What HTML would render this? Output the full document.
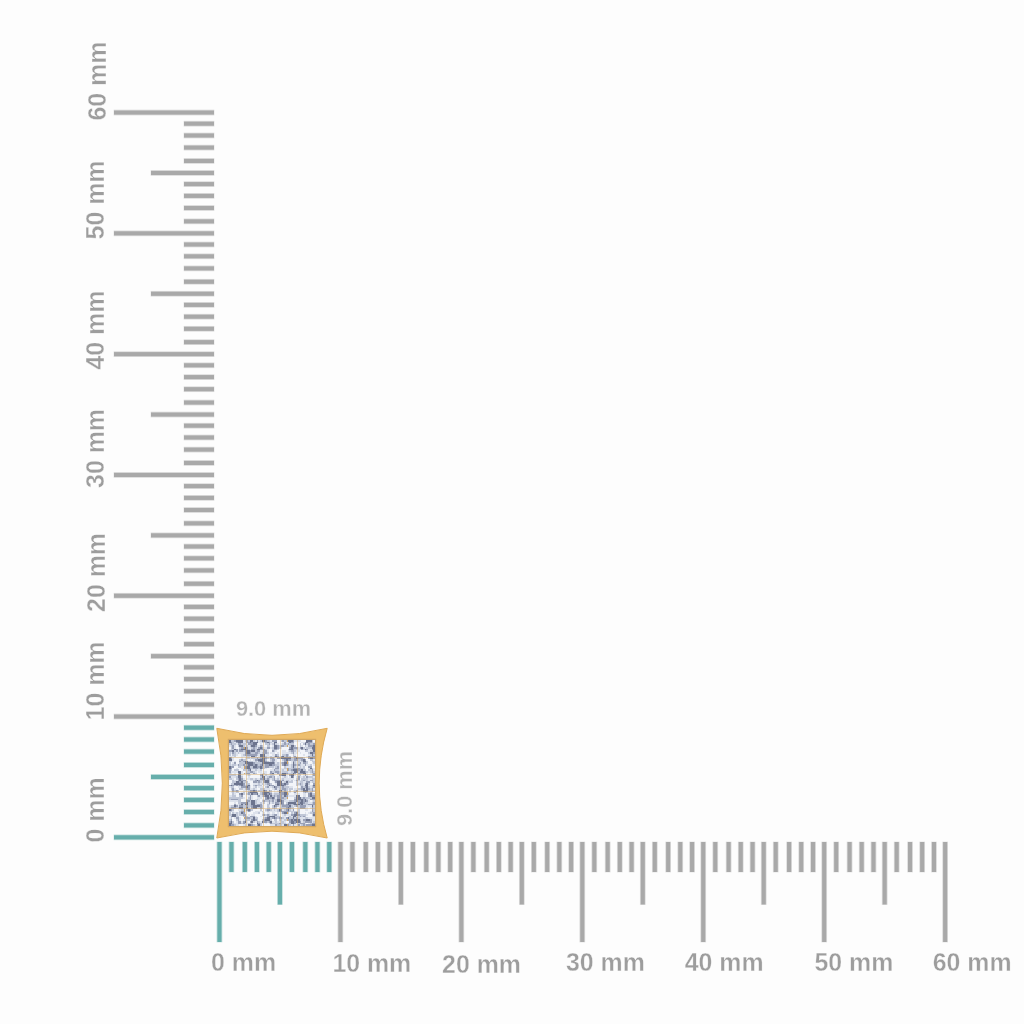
<!DOCTYPE html>
<html><head><meta charset="utf-8"><style>
html,body{margin:0;padding:0;background:#fdfdfd;}
svg{display:block;will-change:transform}
text{font-family:"Liberation Sans",sans-serif;}
text.ax{font-size:24.9px;font-weight:bold;fill:#9d9d9d;stroke:#fdfdfd;stroke-width:0.35px;}
text.dim{font-size:21.8px;font-weight:bold;fill:#b2b2b2;stroke:#fdfdfd;stroke-width:0.3px;}
</style></head><body>
<svg width="1024" height="1024" viewBox="0 0 1024 1024">
<rect width="1024" height="1024" fill="#fdfdfd"/>
<rect x="113.70" y="834.50" width="100.60" height="5.70" fill="#66aeab" opacity="0.4"/>
<rect x="114.00" y="835.30" width="100.00" height="4.10" fill="#66aeab"/>
<rect x="183.70" y="822.50" width="30.60" height="5.70" fill="#66aeab" opacity="0.4"/>
<rect x="184.00" y="823.30" width="30.00" height="4.10" fill="#66aeab"/>
<rect x="183.70" y="809.15" width="30.60" height="5.70" fill="#66aeab" opacity="0.4"/>
<rect x="184.00" y="809.95" width="30.00" height="4.10" fill="#66aeab"/>
<rect x="183.70" y="797.05" width="30.60" height="5.70" fill="#66aeab" opacity="0.4"/>
<rect x="184.00" y="797.85" width="30.00" height="4.10" fill="#66aeab"/>
<rect x="183.70" y="785.25" width="30.60" height="5.70" fill="#66aeab" opacity="0.4"/>
<rect x="184.00" y="786.05" width="30.00" height="4.10" fill="#66aeab"/>
<rect x="150.70" y="774.10" width="63.60" height="5.70" fill="#66aeab" opacity="0.4"/>
<rect x="151.00" y="774.90" width="63.00" height="4.10" fill="#66aeab"/>
<rect x="183.70" y="762.10" width="30.60" height="5.70" fill="#66aeab" opacity="0.4"/>
<rect x="184.00" y="762.90" width="30.00" height="4.10" fill="#66aeab"/>
<rect x="183.70" y="748.75" width="30.60" height="5.70" fill="#66aeab" opacity="0.4"/>
<rect x="184.00" y="749.55" width="30.00" height="4.10" fill="#66aeab"/>
<rect x="183.70" y="736.65" width="30.60" height="5.70" fill="#66aeab" opacity="0.4"/>
<rect x="184.00" y="737.45" width="30.00" height="4.10" fill="#66aeab"/>
<rect x="183.70" y="724.85" width="30.60" height="5.70" fill="#66aeab" opacity="0.4"/>
<rect x="184.00" y="725.65" width="30.00" height="4.10" fill="#66aeab"/>
<rect x="113.70" y="713.70" width="100.60" height="5.70" fill="#a9a9a9" opacity="0.4"/>
<rect x="114.00" y="714.50" width="100.00" height="4.10" fill="#a9a9a9"/>
<rect x="183.70" y="701.70" width="30.60" height="5.70" fill="#a9a9a9" opacity="0.4"/>
<rect x="184.00" y="702.50" width="30.00" height="4.10" fill="#a9a9a9"/>
<rect x="183.70" y="688.35" width="30.60" height="5.70" fill="#a9a9a9" opacity="0.4"/>
<rect x="184.00" y="689.15" width="30.00" height="4.10" fill="#a9a9a9"/>
<rect x="183.70" y="676.25" width="30.60" height="5.70" fill="#a9a9a9" opacity="0.4"/>
<rect x="184.00" y="677.05" width="30.00" height="4.10" fill="#a9a9a9"/>
<rect x="183.70" y="664.45" width="30.60" height="5.70" fill="#a9a9a9" opacity="0.4"/>
<rect x="184.00" y="665.25" width="30.00" height="4.10" fill="#a9a9a9"/>
<rect x="150.70" y="653.30" width="63.60" height="5.70" fill="#a9a9a9" opacity="0.4"/>
<rect x="151.00" y="654.10" width="63.00" height="4.10" fill="#a9a9a9"/>
<rect x="183.70" y="641.30" width="30.60" height="5.70" fill="#a9a9a9" opacity="0.4"/>
<rect x="184.00" y="642.10" width="30.00" height="4.10" fill="#a9a9a9"/>
<rect x="183.70" y="627.95" width="30.60" height="5.70" fill="#a9a9a9" opacity="0.4"/>
<rect x="184.00" y="628.75" width="30.00" height="4.10" fill="#a9a9a9"/>
<rect x="183.70" y="615.85" width="30.60" height="5.70" fill="#a9a9a9" opacity="0.4"/>
<rect x="184.00" y="616.65" width="30.00" height="4.10" fill="#a9a9a9"/>
<rect x="183.70" y="604.05" width="30.60" height="5.70" fill="#a9a9a9" opacity="0.4"/>
<rect x="184.00" y="604.85" width="30.00" height="4.10" fill="#a9a9a9"/>
<rect x="113.70" y="592.90" width="100.60" height="5.70" fill="#a9a9a9" opacity="0.4"/>
<rect x="114.00" y="593.70" width="100.00" height="4.10" fill="#a9a9a9"/>
<rect x="183.70" y="580.90" width="30.60" height="5.70" fill="#a9a9a9" opacity="0.4"/>
<rect x="184.00" y="581.70" width="30.00" height="4.10" fill="#a9a9a9"/>
<rect x="183.70" y="567.55" width="30.60" height="5.70" fill="#a9a9a9" opacity="0.4"/>
<rect x="184.00" y="568.35" width="30.00" height="4.10" fill="#a9a9a9"/>
<rect x="183.70" y="555.45" width="30.60" height="5.70" fill="#a9a9a9" opacity="0.4"/>
<rect x="184.00" y="556.25" width="30.00" height="4.10" fill="#a9a9a9"/>
<rect x="183.70" y="543.65" width="30.60" height="5.70" fill="#a9a9a9" opacity="0.4"/>
<rect x="184.00" y="544.45" width="30.00" height="4.10" fill="#a9a9a9"/>
<rect x="150.70" y="532.50" width="63.60" height="5.70" fill="#a9a9a9" opacity="0.4"/>
<rect x="151.00" y="533.30" width="63.00" height="4.10" fill="#a9a9a9"/>
<rect x="183.70" y="520.50" width="30.60" height="5.70" fill="#a9a9a9" opacity="0.4"/>
<rect x="184.00" y="521.30" width="30.00" height="4.10" fill="#a9a9a9"/>
<rect x="183.70" y="507.15" width="30.60" height="5.70" fill="#a9a9a9" opacity="0.4"/>
<rect x="184.00" y="507.95" width="30.00" height="4.10" fill="#a9a9a9"/>
<rect x="183.70" y="495.05" width="30.60" height="5.70" fill="#a9a9a9" opacity="0.4"/>
<rect x="184.00" y="495.85" width="30.00" height="4.10" fill="#a9a9a9"/>
<rect x="183.70" y="483.25" width="30.60" height="5.70" fill="#a9a9a9" opacity="0.4"/>
<rect x="184.00" y="484.05" width="30.00" height="4.10" fill="#a9a9a9"/>
<rect x="113.70" y="472.10" width="100.60" height="5.70" fill="#a9a9a9" opacity="0.4"/>
<rect x="114.00" y="472.90" width="100.00" height="4.10" fill="#a9a9a9"/>
<rect x="183.70" y="460.10" width="30.60" height="5.70" fill="#a9a9a9" opacity="0.4"/>
<rect x="184.00" y="460.90" width="30.00" height="4.10" fill="#a9a9a9"/>
<rect x="183.70" y="446.75" width="30.60" height="5.70" fill="#a9a9a9" opacity="0.4"/>
<rect x="184.00" y="447.55" width="30.00" height="4.10" fill="#a9a9a9"/>
<rect x="183.70" y="434.65" width="30.60" height="5.70" fill="#a9a9a9" opacity="0.4"/>
<rect x="184.00" y="435.45" width="30.00" height="4.10" fill="#a9a9a9"/>
<rect x="183.70" y="422.85" width="30.60" height="5.70" fill="#a9a9a9" opacity="0.4"/>
<rect x="184.00" y="423.65" width="30.00" height="4.10" fill="#a9a9a9"/>
<rect x="150.70" y="411.70" width="63.60" height="5.70" fill="#a9a9a9" opacity="0.4"/>
<rect x="151.00" y="412.50" width="63.00" height="4.10" fill="#a9a9a9"/>
<rect x="183.70" y="399.70" width="30.60" height="5.70" fill="#a9a9a9" opacity="0.4"/>
<rect x="184.00" y="400.50" width="30.00" height="4.10" fill="#a9a9a9"/>
<rect x="183.70" y="386.35" width="30.60" height="5.70" fill="#a9a9a9" opacity="0.4"/>
<rect x="184.00" y="387.15" width="30.00" height="4.10" fill="#a9a9a9"/>
<rect x="183.70" y="374.25" width="30.60" height="5.70" fill="#a9a9a9" opacity="0.4"/>
<rect x="184.00" y="375.05" width="30.00" height="4.10" fill="#a9a9a9"/>
<rect x="183.70" y="362.45" width="30.60" height="5.70" fill="#a9a9a9" opacity="0.4"/>
<rect x="184.00" y="363.25" width="30.00" height="4.10" fill="#a9a9a9"/>
<rect x="113.70" y="351.30" width="100.60" height="5.70" fill="#a9a9a9" opacity="0.4"/>
<rect x="114.00" y="352.10" width="100.00" height="4.10" fill="#a9a9a9"/>
<rect x="183.70" y="339.30" width="30.60" height="5.70" fill="#a9a9a9" opacity="0.4"/>
<rect x="184.00" y="340.10" width="30.00" height="4.10" fill="#a9a9a9"/>
<rect x="183.70" y="325.95" width="30.60" height="5.70" fill="#a9a9a9" opacity="0.4"/>
<rect x="184.00" y="326.75" width="30.00" height="4.10" fill="#a9a9a9"/>
<rect x="183.70" y="313.85" width="30.60" height="5.70" fill="#a9a9a9" opacity="0.4"/>
<rect x="184.00" y="314.65" width="30.00" height="4.10" fill="#a9a9a9"/>
<rect x="183.70" y="302.05" width="30.60" height="5.70" fill="#a9a9a9" opacity="0.4"/>
<rect x="184.00" y="302.85" width="30.00" height="4.10" fill="#a9a9a9"/>
<rect x="150.70" y="290.90" width="63.60" height="5.70" fill="#a9a9a9" opacity="0.4"/>
<rect x="151.00" y="291.70" width="63.00" height="4.10" fill="#a9a9a9"/>
<rect x="183.70" y="278.90" width="30.60" height="5.70" fill="#a9a9a9" opacity="0.4"/>
<rect x="184.00" y="279.70" width="30.00" height="4.10" fill="#a9a9a9"/>
<rect x="183.70" y="265.55" width="30.60" height="5.70" fill="#a9a9a9" opacity="0.4"/>
<rect x="184.00" y="266.35" width="30.00" height="4.10" fill="#a9a9a9"/>
<rect x="183.70" y="253.45" width="30.60" height="5.70" fill="#a9a9a9" opacity="0.4"/>
<rect x="184.00" y="254.25" width="30.00" height="4.10" fill="#a9a9a9"/>
<rect x="183.70" y="241.65" width="30.60" height="5.70" fill="#a9a9a9" opacity="0.4"/>
<rect x="184.00" y="242.45" width="30.00" height="4.10" fill="#a9a9a9"/>
<rect x="113.70" y="230.50" width="100.60" height="5.70" fill="#a9a9a9" opacity="0.4"/>
<rect x="114.00" y="231.30" width="100.00" height="4.10" fill="#a9a9a9"/>
<rect x="183.70" y="218.50" width="30.60" height="5.70" fill="#a9a9a9" opacity="0.4"/>
<rect x="184.00" y="219.30" width="30.00" height="4.10" fill="#a9a9a9"/>
<rect x="183.70" y="205.15" width="30.60" height="5.70" fill="#a9a9a9" opacity="0.4"/>
<rect x="184.00" y="205.95" width="30.00" height="4.10" fill="#a9a9a9"/>
<rect x="183.70" y="193.05" width="30.60" height="5.70" fill="#a9a9a9" opacity="0.4"/>
<rect x="184.00" y="193.85" width="30.00" height="4.10" fill="#a9a9a9"/>
<rect x="183.70" y="181.25" width="30.60" height="5.70" fill="#a9a9a9" opacity="0.4"/>
<rect x="184.00" y="182.05" width="30.00" height="4.10" fill="#a9a9a9"/>
<rect x="150.70" y="170.10" width="63.60" height="5.70" fill="#a9a9a9" opacity="0.4"/>
<rect x="151.00" y="170.90" width="63.00" height="4.10" fill="#a9a9a9"/>
<rect x="183.70" y="158.10" width="30.60" height="5.70" fill="#a9a9a9" opacity="0.4"/>
<rect x="184.00" y="158.90" width="30.00" height="4.10" fill="#a9a9a9"/>
<rect x="183.70" y="144.75" width="30.60" height="5.70" fill="#a9a9a9" opacity="0.4"/>
<rect x="184.00" y="145.55" width="30.00" height="4.10" fill="#a9a9a9"/>
<rect x="183.70" y="132.65" width="30.60" height="5.70" fill="#a9a9a9" opacity="0.4"/>
<rect x="184.00" y="133.45" width="30.00" height="4.10" fill="#a9a9a9"/>
<rect x="183.70" y="120.85" width="30.60" height="5.70" fill="#a9a9a9" opacity="0.4"/>
<rect x="184.00" y="121.65" width="30.00" height="4.10" fill="#a9a9a9"/>
<rect x="113.70" y="109.70" width="100.60" height="5.70" fill="#a9a9a9" opacity="0.4"/>
<rect x="114.00" y="110.50" width="100.00" height="4.10" fill="#a9a9a9"/>
<rect x="216.60" y="841.70" width="5.70" height="100.60" fill="#66aeab" opacity="0.4"/>
<rect x="217.40" y="842.00" width="4.10" height="100.00" fill="#66aeab"/>
<rect x="228.61" y="841.70" width="5.70" height="30.60" fill="#66aeab" opacity="0.4"/>
<rect x="229.41" y="842.00" width="4.10" height="30.00" fill="#66aeab"/>
<rect x="241.98" y="841.70" width="5.70" height="30.60" fill="#66aeab" opacity="0.4"/>
<rect x="242.78" y="842.00" width="4.10" height="30.00" fill="#66aeab"/>
<rect x="254.10" y="841.70" width="5.70" height="30.60" fill="#66aeab" opacity="0.4"/>
<rect x="254.90" y="842.00" width="4.10" height="30.00" fill="#66aeab"/>
<rect x="265.91" y="841.70" width="5.70" height="30.60" fill="#66aeab" opacity="0.4"/>
<rect x="266.71" y="842.00" width="4.10" height="30.00" fill="#66aeab"/>
<rect x="277.07" y="841.70" width="5.70" height="63.10" fill="#66aeab" opacity="0.4"/>
<rect x="277.88" y="842.00" width="4.10" height="62.50" fill="#66aeab"/>
<rect x="289.09" y="841.70" width="5.70" height="30.60" fill="#66aeab" opacity="0.4"/>
<rect x="289.89" y="842.00" width="4.10" height="30.00" fill="#66aeab"/>
<rect x="302.46" y="841.70" width="5.70" height="30.60" fill="#66aeab" opacity="0.4"/>
<rect x="303.26" y="842.00" width="4.10" height="30.00" fill="#66aeab"/>
<rect x="314.57" y="841.70" width="5.70" height="30.60" fill="#66aeab" opacity="0.4"/>
<rect x="315.37" y="842.00" width="4.10" height="30.00" fill="#66aeab"/>
<rect x="326.39" y="841.70" width="5.70" height="30.60" fill="#66aeab" opacity="0.4"/>
<rect x="327.19" y="842.00" width="4.10" height="30.00" fill="#66aeab"/>
<rect x="337.55" y="841.70" width="5.70" height="100.60" fill="#a9a9a9" opacity="0.4"/>
<rect x="338.35" y="842.00" width="4.10" height="100.00" fill="#a9a9a9"/>
<rect x="349.56" y="841.70" width="5.70" height="30.60" fill="#a9a9a9" opacity="0.4"/>
<rect x="350.36" y="842.00" width="4.10" height="30.00" fill="#a9a9a9"/>
<rect x="362.93" y="841.70" width="5.70" height="30.60" fill="#a9a9a9" opacity="0.4"/>
<rect x="363.73" y="842.00" width="4.10" height="30.00" fill="#a9a9a9"/>
<rect x="375.05" y="841.70" width="5.70" height="30.60" fill="#a9a9a9" opacity="0.4"/>
<rect x="375.85" y="842.00" width="4.10" height="30.00" fill="#a9a9a9"/>
<rect x="386.86" y="841.70" width="5.70" height="30.60" fill="#a9a9a9" opacity="0.4"/>
<rect x="387.66" y="842.00" width="4.10" height="30.00" fill="#a9a9a9"/>
<rect x="398.02" y="841.70" width="5.70" height="63.10" fill="#a9a9a9" opacity="0.4"/>
<rect x="398.82" y="842.00" width="4.10" height="62.50" fill="#a9a9a9"/>
<rect x="410.04" y="841.70" width="5.70" height="30.60" fill="#a9a9a9" opacity="0.4"/>
<rect x="410.84" y="842.00" width="4.10" height="30.00" fill="#a9a9a9"/>
<rect x="423.41" y="841.70" width="5.70" height="30.60" fill="#a9a9a9" opacity="0.4"/>
<rect x="424.21" y="842.00" width="4.10" height="30.00" fill="#a9a9a9"/>
<rect x="435.52" y="841.70" width="5.70" height="30.60" fill="#a9a9a9" opacity="0.4"/>
<rect x="436.32" y="842.00" width="4.10" height="30.00" fill="#a9a9a9"/>
<rect x="447.34" y="841.70" width="5.70" height="30.60" fill="#a9a9a9" opacity="0.4"/>
<rect x="448.14" y="842.00" width="4.10" height="30.00" fill="#a9a9a9"/>
<rect x="458.50" y="841.70" width="5.70" height="100.60" fill="#a9a9a9" opacity="0.4"/>
<rect x="459.30" y="842.00" width="4.10" height="100.00" fill="#a9a9a9"/>
<rect x="470.51" y="841.70" width="5.70" height="30.60" fill="#a9a9a9" opacity="0.4"/>
<rect x="471.31" y="842.00" width="4.10" height="30.00" fill="#a9a9a9"/>
<rect x="483.88" y="841.70" width="5.70" height="30.60" fill="#a9a9a9" opacity="0.4"/>
<rect x="484.68" y="842.00" width="4.10" height="30.00" fill="#a9a9a9"/>
<rect x="496.00" y="841.70" width="5.70" height="30.60" fill="#a9a9a9" opacity="0.4"/>
<rect x="496.80" y="842.00" width="4.10" height="30.00" fill="#a9a9a9"/>
<rect x="507.81" y="841.70" width="5.70" height="30.60" fill="#a9a9a9" opacity="0.4"/>
<rect x="508.61" y="842.00" width="4.10" height="30.00" fill="#a9a9a9"/>
<rect x="518.98" y="841.70" width="5.70" height="63.10" fill="#a9a9a9" opacity="0.4"/>
<rect x="519.78" y="842.00" width="4.10" height="62.50" fill="#a9a9a9"/>
<rect x="530.99" y="841.70" width="5.70" height="30.60" fill="#a9a9a9" opacity="0.4"/>
<rect x="531.79" y="842.00" width="4.10" height="30.00" fill="#a9a9a9"/>
<rect x="544.36" y="841.70" width="5.70" height="30.60" fill="#a9a9a9" opacity="0.4"/>
<rect x="545.16" y="842.00" width="4.10" height="30.00" fill="#a9a9a9"/>
<rect x="556.47" y="841.70" width="5.70" height="30.60" fill="#a9a9a9" opacity="0.4"/>
<rect x="557.27" y="842.00" width="4.10" height="30.00" fill="#a9a9a9"/>
<rect x="568.29" y="841.70" width="5.70" height="30.60" fill="#a9a9a9" opacity="0.4"/>
<rect x="569.09" y="842.00" width="4.10" height="30.00" fill="#a9a9a9"/>
<rect x="579.45" y="841.70" width="5.70" height="100.60" fill="#a9a9a9" opacity="0.4"/>
<rect x="580.25" y="842.00" width="4.10" height="100.00" fill="#a9a9a9"/>
<rect x="591.46" y="841.70" width="5.70" height="30.60" fill="#a9a9a9" opacity="0.4"/>
<rect x="592.26" y="842.00" width="4.10" height="30.00" fill="#a9a9a9"/>
<rect x="604.83" y="841.70" width="5.70" height="30.60" fill="#a9a9a9" opacity="0.4"/>
<rect x="605.63" y="842.00" width="4.10" height="30.00" fill="#a9a9a9"/>
<rect x="616.95" y="841.70" width="5.70" height="30.60" fill="#a9a9a9" opacity="0.4"/>
<rect x="617.75" y="842.00" width="4.10" height="30.00" fill="#a9a9a9"/>
<rect x="628.76" y="841.70" width="5.70" height="30.60" fill="#a9a9a9" opacity="0.4"/>
<rect x="629.56" y="842.00" width="4.10" height="30.00" fill="#a9a9a9"/>
<rect x="639.93" y="841.70" width="5.70" height="63.10" fill="#a9a9a9" opacity="0.4"/>
<rect x="640.73" y="842.00" width="4.10" height="62.50" fill="#a9a9a9"/>
<rect x="651.94" y="841.70" width="5.70" height="30.60" fill="#a9a9a9" opacity="0.4"/>
<rect x="652.74" y="842.00" width="4.10" height="30.00" fill="#a9a9a9"/>
<rect x="665.31" y="841.70" width="5.70" height="30.60" fill="#a9a9a9" opacity="0.4"/>
<rect x="666.11" y="842.00" width="4.10" height="30.00" fill="#a9a9a9"/>
<rect x="677.42" y="841.70" width="5.70" height="30.60" fill="#a9a9a9" opacity="0.4"/>
<rect x="678.22" y="842.00" width="4.10" height="30.00" fill="#a9a9a9"/>
<rect x="689.24" y="841.70" width="5.70" height="30.60" fill="#a9a9a9" opacity="0.4"/>
<rect x="690.04" y="842.00" width="4.10" height="30.00" fill="#a9a9a9"/>
<rect x="700.40" y="841.70" width="5.70" height="100.60" fill="#a9a9a9" opacity="0.4"/>
<rect x="701.20" y="842.00" width="4.10" height="100.00" fill="#a9a9a9"/>
<rect x="712.41" y="841.70" width="5.70" height="30.60" fill="#a9a9a9" opacity="0.4"/>
<rect x="713.21" y="842.00" width="4.10" height="30.00" fill="#a9a9a9"/>
<rect x="725.78" y="841.70" width="5.70" height="30.60" fill="#a9a9a9" opacity="0.4"/>
<rect x="726.58" y="842.00" width="4.10" height="30.00" fill="#a9a9a9"/>
<rect x="737.90" y="841.70" width="5.70" height="30.60" fill="#a9a9a9" opacity="0.4"/>
<rect x="738.70" y="842.00" width="4.10" height="30.00" fill="#a9a9a9"/>
<rect x="749.71" y="841.70" width="5.70" height="30.60" fill="#a9a9a9" opacity="0.4"/>
<rect x="750.51" y="842.00" width="4.10" height="30.00" fill="#a9a9a9"/>
<rect x="760.87" y="841.70" width="5.70" height="63.10" fill="#a9a9a9" opacity="0.4"/>
<rect x="761.67" y="842.00" width="4.10" height="62.50" fill="#a9a9a9"/>
<rect x="772.89" y="841.70" width="5.70" height="30.60" fill="#a9a9a9" opacity="0.4"/>
<rect x="773.69" y="842.00" width="4.10" height="30.00" fill="#a9a9a9"/>
<rect x="786.26" y="841.70" width="5.70" height="30.60" fill="#a9a9a9" opacity="0.4"/>
<rect x="787.06" y="842.00" width="4.10" height="30.00" fill="#a9a9a9"/>
<rect x="798.37" y="841.70" width="5.70" height="30.60" fill="#a9a9a9" opacity="0.4"/>
<rect x="799.17" y="842.00" width="4.10" height="30.00" fill="#a9a9a9"/>
<rect x="810.19" y="841.70" width="5.70" height="30.60" fill="#a9a9a9" opacity="0.4"/>
<rect x="810.99" y="842.00" width="4.10" height="30.00" fill="#a9a9a9"/>
<rect x="821.35" y="841.70" width="5.70" height="100.60" fill="#a9a9a9" opacity="0.4"/>
<rect x="822.15" y="842.00" width="4.10" height="100.00" fill="#a9a9a9"/>
<rect x="833.36" y="841.70" width="5.70" height="30.60" fill="#a9a9a9" opacity="0.4"/>
<rect x="834.16" y="842.00" width="4.10" height="30.00" fill="#a9a9a9"/>
<rect x="846.73" y="841.70" width="5.70" height="30.60" fill="#a9a9a9" opacity="0.4"/>
<rect x="847.53" y="842.00" width="4.10" height="30.00" fill="#a9a9a9"/>
<rect x="858.85" y="841.70" width="5.70" height="30.60" fill="#a9a9a9" opacity="0.4"/>
<rect x="859.65" y="842.00" width="4.10" height="30.00" fill="#a9a9a9"/>
<rect x="870.66" y="841.70" width="5.70" height="30.60" fill="#a9a9a9" opacity="0.4"/>
<rect x="871.46" y="842.00" width="4.10" height="30.00" fill="#a9a9a9"/>
<rect x="881.82" y="841.70" width="5.70" height="63.10" fill="#a9a9a9" opacity="0.4"/>
<rect x="882.62" y="842.00" width="4.10" height="62.50" fill="#a9a9a9"/>
<rect x="893.84" y="841.70" width="5.70" height="30.60" fill="#a9a9a9" opacity="0.4"/>
<rect x="894.64" y="842.00" width="4.10" height="30.00" fill="#a9a9a9"/>
<rect x="907.21" y="841.70" width="5.70" height="30.60" fill="#a9a9a9" opacity="0.4"/>
<rect x="908.01" y="842.00" width="4.10" height="30.00" fill="#a9a9a9"/>
<rect x="919.32" y="841.70" width="5.70" height="30.60" fill="#a9a9a9" opacity="0.4"/>
<rect x="920.12" y="842.00" width="4.10" height="30.00" fill="#a9a9a9"/>
<rect x="931.14" y="841.70" width="5.70" height="30.60" fill="#a9a9a9" opacity="0.4"/>
<rect x="931.94" y="842.00" width="4.10" height="30.00" fill="#a9a9a9"/>
<rect x="942.30" y="841.70" width="5.70" height="100.60" fill="#a9a9a9" opacity="0.4"/>
<rect x="943.10" y="842.00" width="4.10" height="100.00" fill="#a9a9a9"/>
<text class="ax" x="211.00" y="971.00">0 mm</text>
<text class="ax" x="332.40" y="972.00">10 mm</text>
<text class="ax" x="442.10" y="972.50">20 mm</text>
<text class="ax" x="566.00" y="971.00">30 mm</text>
<text class="ax" x="684.70" y="971.00">40 mm</text>
<text class="ax" x="814.50" y="971.00">50 mm</text>
<text class="ax" x="932.70" y="971.00">60 mm</text>
<text class="ax" transform="translate(105.60,120.60) rotate(-90)">60 mm</text>
<text class="ax" transform="translate(104.30,239.40) rotate(-90)">50 mm</text>
<text class="ax" transform="translate(104.30,369.60) rotate(-90)">40 mm</text>
<text class="ax" transform="translate(104.30,487.90) rotate(-90)">30 mm</text>
<text class="ax" transform="translate(105.30,611.90) rotate(-90)">20 mm</text>
<text class="ax" transform="translate(104.30,720.40) rotate(-90)">10 mm</text>
<text class="ax" transform="translate(104.30,842.50) rotate(-90)">0 mm</text>
<text class="dim" x="235.90" y="716.40">9.0 mm</text>
<text class="dim" transform="translate(352.40,826.00) rotate(-90)">9.0 mm</text>
<defs><filter id="bl" x="-5%" y="-5%" width="110%" height="110%"><feGaussianBlur stdDeviation="0"/></filter></defs>
<path d="M216.8,728.3 Q272.0,742.3 327.2,728.3 Q311.2,783.15 327.2,838.0 Q272.0,824.4 216.8,838.0 Q227.8,783.15 216.8,728.3 Z" fill="#eebf6e" stroke="#dfa955" stroke-width="1"/>
<rect x="227.8" y="738.8" width="88.4" height="88.4" fill="#d2a764"/>
<g shape-rendering="crispEdges"><rect x="229.0" y="740.0" width="1.7" height="1.7" fill="#6c748e"/><rect x="230.7" y="740.0" width="3.4" height="1.7" fill="#c0c7d7"/><rect x="234.2" y="740.0" width="1.7" height="1.7" fill="#98a0b7"/><rect x="235.9" y="740.0" width="6.9" height="1.7" fill="#6c748e"/><rect x="242.8" y="740.0" width="1.7" height="1.7" fill="#dde2ec"/><rect x="244.5" y="740.0" width="1.7" height="1.7" fill="#c0c7d7"/><rect x="246.2" y="740.0" width="1.7" height="1.7" fill="#98a0b7"/><rect x="247.9" y="740.0" width="1.7" height="1.7" fill="#c0c7d7"/><rect x="249.6" y="740.0" width="3.4" height="1.7" fill="#6c748e"/><rect x="253.1" y="740.0" width="1.7" height="1.7" fill="#c0c7d7"/><rect x="254.8" y="740.0" width="1.7" height="1.7" fill="#dde2ec"/><rect x="256.5" y="740.0" width="1.7" height="1.7" fill="#98a0b7"/><rect x="258.2" y="740.0" width="1.7" height="1.7" fill="#dde2ec"/><rect x="260.0" y="740.0" width="1.7" height="1.7" fill="#c0c7d7"/><rect x="261.7" y="740.0" width="3.4" height="1.7" fill="#6c748e"/><rect x="265.1" y="740.0" width="1.7" height="1.7" fill="#98a0b7"/><rect x="266.8" y="740.0" width="3.4" height="1.7" fill="#c0c7d7"/><rect x="270.3" y="740.0" width="1.7" height="1.7" fill="#dde2ec"/><rect x="272.0" y="740.0" width="5.2" height="1.7" fill="#98a0b7"/><rect x="277.2" y="740.0" width="3.4" height="1.7" fill="#f3f5f9"/><rect x="280.6" y="740.0" width="1.7" height="1.7" fill="#c0c7d7"/><rect x="282.3" y="740.0" width="1.7" height="1.7" fill="#98a0b7"/><rect x="284.0" y="740.0" width="3.4" height="1.7" fill="#c0c7d7"/><rect x="287.5" y="740.0" width="5.2" height="1.7" fill="#6c748e"/><rect x="292.6" y="740.0" width="1.7" height="1.7" fill="#98a0b7"/><rect x="294.4" y="740.0" width="6.9" height="1.7" fill="#dde2ec"/><rect x="301.2" y="740.0" width="5.2" height="1.7" fill="#f3f5f9"/><rect x="306.4" y="740.0" width="5.2" height="1.7" fill="#6c748e"/><rect x="311.6" y="740.0" width="1.7" height="1.7" fill="#c0c7d7"/><rect x="313.3" y="740.0" width="1.7" height="1.7" fill="#f3f5f9"/><rect x="229.0" y="741.7" width="1.7" height="1.7" fill="#6c748e"/><rect x="230.7" y="741.7" width="1.7" height="1.7" fill="#98a0b7"/><rect x="232.4" y="741.7" width="1.7" height="1.7" fill="#c0c7d7"/><rect x="234.2" y="741.7" width="1.7" height="1.7" fill="#dde2ec"/><rect x="235.9" y="741.7" width="1.7" height="1.7" fill="#98a0b7"/><rect x="237.6" y="741.7" width="5.2" height="1.7" fill="#6c748e"/><rect x="242.8" y="741.7" width="3.4" height="1.7" fill="#dde2ec"/><rect x="246.2" y="741.7" width="3.4" height="1.7" fill="#98a0b7"/><rect x="249.6" y="741.7" width="1.7" height="1.7" fill="#6c748e"/><rect x="251.4" y="741.7" width="1.7" height="1.7" fill="#98a0b7"/><rect x="253.1" y="741.7" width="5.2" height="1.7" fill="#6c748e"/><rect x="258.2" y="741.7" width="3.4" height="1.7" fill="#dde2ec"/><rect x="261.7" y="741.7" width="3.4" height="1.7" fill="#c0c7d7"/><rect x="265.1" y="741.7" width="1.7" height="1.7" fill="#98a0b7"/><rect x="266.8" y="741.7" width="1.7" height="1.7" fill="#6c748e"/><rect x="268.6" y="741.7" width="1.7" height="1.7" fill="#98a0b7"/><rect x="270.3" y="741.7" width="1.7" height="1.7" fill="#c0c7d7"/><rect x="272.0" y="741.7" width="1.7" height="1.7" fill="#dde2ec"/><rect x="273.7" y="741.7" width="3.4" height="1.7" fill="#6c748e"/><rect x="277.2" y="741.7" width="5.2" height="1.7" fill="#f3f5f9"/><rect x="282.3" y="741.7" width="1.7" height="1.7" fill="#dde2ec"/><rect x="284.0" y="741.7" width="1.7" height="1.7" fill="#98a0b7"/><rect x="285.8" y="741.7" width="1.7" height="1.7" fill="#dde2ec"/><rect x="287.5" y="741.7" width="1.7" height="1.7" fill="#c0c7d7"/><rect x="289.2" y="741.7" width="1.7" height="1.7" fill="#6c748e"/><rect x="290.9" y="741.7" width="3.4" height="1.7" fill="#98a0b7"/><rect x="294.4" y="741.7" width="6.9" height="1.7" fill="#f3f5f9"/><rect x="301.2" y="741.7" width="3.4" height="1.7" fill="#dde2ec"/><rect x="304.7" y="741.7" width="1.7" height="1.7" fill="#98a0b7"/><rect x="306.4" y="741.7" width="1.7" height="1.7" fill="#6c748e"/><rect x="308.1" y="741.7" width="3.4" height="1.7" fill="#98a0b7"/><rect x="311.6" y="741.7" width="1.7" height="1.7" fill="#c0c7d7"/><rect x="313.3" y="741.7" width="1.7" height="1.7" fill="#dde2ec"/><rect x="229.0" y="743.4" width="1.7" height="1.7" fill="#c0c7d7"/><rect x="230.7" y="743.4" width="1.7" height="1.7" fill="#98a0b7"/><rect x="232.4" y="743.4" width="3.4" height="1.7" fill="#c0c7d7"/><rect x="235.9" y="743.4" width="1.7" height="1.7" fill="#dde2ec"/><rect x="237.6" y="743.4" width="3.4" height="1.7" fill="#98a0b7"/><rect x="241.0" y="743.4" width="5.2" height="1.7" fill="#c0c7d7"/><rect x="246.2" y="743.4" width="1.7" height="1.7" fill="#dde2ec"/><rect x="247.9" y="743.4" width="5.2" height="1.7" fill="#98a0b7"/><rect x="253.1" y="743.4" width="3.4" height="1.7" fill="#6c748e"/><rect x="256.5" y="743.4" width="1.7" height="1.7" fill="#dde2ec"/><rect x="258.2" y="743.4" width="1.7" height="1.7" fill="#f3f5f9"/><rect x="260.0" y="743.4" width="1.7" height="1.7" fill="#dde2ec"/><rect x="261.7" y="743.4" width="3.4" height="1.7" fill="#f3f5f9"/><rect x="265.1" y="743.4" width="3.4" height="1.7" fill="#c0c7d7"/><rect x="268.6" y="743.4" width="1.7" height="1.7" fill="#98a0b7"/><rect x="270.3" y="743.4" width="1.7" height="1.7" fill="#dde2ec"/><rect x="272.0" y="743.4" width="1.7" height="1.7" fill="#c0c7d7"/><rect x="273.7" y="743.4" width="1.7" height="1.7" fill="#6c748e"/><rect x="275.4" y="743.4" width="1.7" height="1.7" fill="#c0c7d7"/><rect x="277.2" y="743.4" width="1.7" height="1.7" fill="#dde2ec"/><rect x="278.9" y="743.4" width="1.7" height="1.7" fill="#f3f5f9"/><rect x="280.6" y="743.4" width="1.7" height="1.7" fill="#dde2ec"/><rect x="282.3" y="743.4" width="1.7" height="1.7" fill="#c0c7d7"/><rect x="284.0" y="743.4" width="1.7" height="1.7" fill="#98a0b7"/><rect x="285.8" y="743.4" width="1.7" height="1.7" fill="#c0c7d7"/><rect x="287.5" y="743.4" width="1.7" height="1.7" fill="#98a0b7"/><rect x="289.2" y="743.4" width="5.2" height="1.7" fill="#c0c7d7"/><rect x="294.4" y="743.4" width="5.2" height="1.7" fill="#f3f5f9"/><rect x="299.5" y="743.4" width="1.7" height="1.7" fill="#c0c7d7"/><rect x="301.2" y="743.4" width="1.7" height="1.7" fill="#f3f5f9"/><rect x="303.0" y="743.4" width="1.7" height="1.7" fill="#c0c7d7"/><rect x="304.7" y="743.4" width="1.7" height="1.7" fill="#6c748e"/><rect x="306.4" y="743.4" width="1.7" height="1.7" fill="#c0c7d7"/><rect x="308.1" y="743.4" width="1.7" height="1.7" fill="#98a0b7"/><rect x="309.8" y="743.4" width="3.4" height="1.7" fill="#c0c7d7"/><rect x="313.3" y="743.4" width="1.7" height="1.7" fill="#98a0b7"/><rect x="229.0" y="745.2" width="1.7" height="1.7" fill="#dde2ec"/><rect x="230.7" y="745.2" width="1.7" height="1.7" fill="#c0c7d7"/><rect x="232.4" y="745.2" width="1.7" height="1.7" fill="#98a0b7"/><rect x="234.2" y="745.2" width="1.7" height="1.7" fill="#dde2ec"/><rect x="235.9" y="745.2" width="1.7" height="1.7" fill="#f3f5f9"/><rect x="237.6" y="745.2" width="1.7" height="1.7" fill="#c0c7d7"/><rect x="239.3" y="745.2" width="3.4" height="1.7" fill="#6c748e"/><rect x="242.8" y="745.2" width="1.7" height="1.7" fill="#c0c7d7"/><rect x="244.5" y="745.2" width="1.7" height="1.7" fill="#dde2ec"/><rect x="246.2" y="745.2" width="1.7" height="1.7" fill="#c0c7d7"/><rect x="247.9" y="745.2" width="1.7" height="1.7" fill="#dde2ec"/><rect x="249.6" y="745.2" width="1.7" height="1.7" fill="#c0c7d7"/><rect x="251.4" y="745.2" width="3.4" height="1.7" fill="#6c748e"/><rect x="254.8" y="745.2" width="1.7" height="1.7" fill="#98a0b7"/><rect x="256.5" y="745.2" width="3.4" height="1.7" fill="#dde2ec"/><rect x="260.0" y="745.2" width="1.7" height="1.7" fill="#98a0b7"/><rect x="261.7" y="745.2" width="1.7" height="1.7" fill="#c0c7d7"/><rect x="263.4" y="745.2" width="3.4" height="1.7" fill="#f3f5f9"/><rect x="266.8" y="745.2" width="3.4" height="1.7" fill="#c0c7d7"/><rect x="270.3" y="745.2" width="1.7" height="1.7" fill="#f3f5f9"/><rect x="272.0" y="745.2" width="1.7" height="1.7" fill="#dde2ec"/><rect x="273.7" y="745.2" width="3.4" height="1.7" fill="#6c748e"/><rect x="277.2" y="745.2" width="1.7" height="1.7" fill="#98a0b7"/><rect x="278.9" y="745.2" width="1.7" height="1.7" fill="#c0c7d7"/><rect x="280.6" y="745.2" width="3.4" height="1.7" fill="#98a0b7"/><rect x="284.0" y="745.2" width="3.4" height="1.7" fill="#c0c7d7"/><rect x="287.5" y="745.2" width="1.7" height="1.7" fill="#dde2ec"/><rect x="289.2" y="745.2" width="1.7" height="1.7" fill="#c0c7d7"/><rect x="290.9" y="745.2" width="3.4" height="1.7" fill="#6c748e"/><rect x="294.4" y="745.2" width="1.7" height="1.7" fill="#c0c7d7"/><rect x="296.1" y="745.2" width="3.4" height="1.7" fill="#f3f5f9"/><rect x="299.5" y="745.2" width="1.7" height="1.7" fill="#c0c7d7"/><rect x="301.2" y="745.2" width="1.7" height="1.7" fill="#dde2ec"/><rect x="303.0" y="745.2" width="1.7" height="1.7" fill="#f3f5f9"/><rect x="304.7" y="745.2" width="1.7" height="1.7" fill="#c0c7d7"/><rect x="306.4" y="745.2" width="1.7" height="1.7" fill="#dde2ec"/><rect x="308.1" y="745.2" width="5.2" height="1.7" fill="#98a0b7"/><rect x="313.3" y="745.2" width="1.7" height="1.7" fill="#6c748e"/><rect x="229.0" y="746.9" width="1.7" height="1.7" fill="#f3f5f9"/><rect x="230.7" y="746.9" width="1.7" height="1.7" fill="#c0c7d7"/><rect x="232.4" y="746.9" width="1.7" height="1.7" fill="#98a0b7"/><rect x="234.2" y="746.9" width="1.7" height="1.7" fill="#dde2ec"/><rect x="235.9" y="746.9" width="3.4" height="1.7" fill="#f3f5f9"/><rect x="239.3" y="746.9" width="1.7" height="1.7" fill="#c0c7d7"/><rect x="241.0" y="746.9" width="3.4" height="1.7" fill="#98a0b7"/><rect x="244.5" y="746.9" width="1.7" height="1.7" fill="#6c748e"/><rect x="246.2" y="746.9" width="1.7" height="1.7" fill="#98a0b7"/><rect x="247.9" y="746.9" width="3.4" height="1.7" fill="#dde2ec"/><rect x="251.4" y="746.9" width="1.7" height="1.7" fill="#c0c7d7"/><rect x="253.1" y="746.9" width="1.7" height="1.7" fill="#98a0b7"/><rect x="254.8" y="746.9" width="1.7" height="1.7" fill="#c0c7d7"/><rect x="256.5" y="746.9" width="1.7" height="1.7" fill="#dde2ec"/><rect x="258.2" y="746.9" width="1.7" height="1.7" fill="#98a0b7"/><rect x="260.0" y="746.9" width="1.7" height="1.7" fill="#6c748e"/><rect x="261.7" y="746.9" width="1.7" height="1.7" fill="#98a0b7"/><rect x="263.4" y="746.9" width="3.4" height="1.7" fill="#dde2ec"/><rect x="266.8" y="746.9" width="3.4" height="1.7" fill="#98a0b7"/><rect x="270.3" y="746.9" width="1.7" height="1.7" fill="#dde2ec"/><rect x="272.0" y="746.9" width="1.7" height="1.7" fill="#c0c7d7"/><rect x="273.7" y="746.9" width="3.4" height="1.7" fill="#6c748e"/><rect x="277.2" y="746.9" width="1.7" height="1.7" fill="#98a0b7"/><rect x="278.9" y="746.9" width="1.7" height="1.7" fill="#c0c7d7"/><rect x="280.6" y="746.9" width="1.7" height="1.7" fill="#dde2ec"/><rect x="282.3" y="746.9" width="6.9" height="1.7" fill="#f3f5f9"/><rect x="289.2" y="746.9" width="1.7" height="1.7" fill="#98a0b7"/><rect x="290.9" y="746.9" width="1.7" height="1.7" fill="#6c748e"/><rect x="292.6" y="746.9" width="5.2" height="1.7" fill="#98a0b7"/><rect x="297.8" y="746.9" width="1.7" height="1.7" fill="#dde2ec"/><rect x="299.5" y="746.9" width="1.7" height="1.7" fill="#98a0b7"/><rect x="301.2" y="746.9" width="1.7" height="1.7" fill="#6c748e"/><rect x="303.0" y="746.9" width="1.7" height="1.7" fill="#c0c7d7"/><rect x="304.7" y="746.9" width="1.7" height="1.7" fill="#dde2ec"/><rect x="306.4" y="746.9" width="5.2" height="1.7" fill="#c0c7d7"/><rect x="311.6" y="746.9" width="3.4" height="1.7" fill="#6c748e"/><rect x="229.0" y="748.6" width="1.7" height="1.7" fill="#dde2ec"/><rect x="230.7" y="748.6" width="3.4" height="1.7" fill="#c0c7d7"/><rect x="234.2" y="748.6" width="1.7" height="1.7" fill="#6c748e"/><rect x="235.9" y="748.6" width="1.7" height="1.7" fill="#98a0b7"/><rect x="237.6" y="748.6" width="1.7" height="1.7" fill="#dde2ec"/><rect x="239.3" y="748.6" width="1.7" height="1.7" fill="#98a0b7"/><rect x="241.0" y="748.6" width="5.2" height="1.7" fill="#6c748e"/><rect x="246.2" y="748.6" width="1.7" height="1.7" fill="#98a0b7"/><rect x="247.9" y="748.6" width="1.7" height="1.7" fill="#c0c7d7"/><rect x="249.6" y="748.6" width="1.7" height="1.7" fill="#dde2ec"/><rect x="251.4" y="748.6" width="3.4" height="1.7" fill="#98a0b7"/><rect x="254.8" y="748.6" width="1.7" height="1.7" fill="#c0c7d7"/><rect x="256.5" y="748.6" width="3.4" height="1.7" fill="#6c748e"/><rect x="260.0" y="748.6" width="5.2" height="1.7" fill="#98a0b7"/><rect x="265.1" y="748.6" width="1.7" height="1.7" fill="#c0c7d7"/><rect x="266.8" y="748.6" width="1.7" height="1.7" fill="#dde2ec"/><rect x="268.6" y="748.6" width="3.4" height="1.7" fill="#f3f5f9"/><rect x="272.0" y="748.6" width="1.7" height="1.7" fill="#c0c7d7"/><rect x="273.7" y="748.6" width="3.4" height="1.7" fill="#98a0b7"/><rect x="277.2" y="748.6" width="1.7" height="1.7" fill="#c0c7d7"/><rect x="278.9" y="748.6" width="8.6" height="1.7" fill="#f3f5f9"/><rect x="287.5" y="748.6" width="1.7" height="1.7" fill="#c0c7d7"/><rect x="289.2" y="748.6" width="3.4" height="1.7" fill="#6c748e"/><rect x="292.6" y="748.6" width="1.7" height="1.7" fill="#98a0b7"/><rect x="294.4" y="748.6" width="3.4" height="1.7" fill="#c0c7d7"/><rect x="297.8" y="748.6" width="3.4" height="1.7" fill="#dde2ec"/><rect x="301.2" y="748.6" width="1.7" height="1.7" fill="#98a0b7"/><rect x="303.0" y="748.6" width="1.7" height="1.7" fill="#c0c7d7"/><rect x="304.7" y="748.6" width="1.7" height="1.7" fill="#6c748e"/><rect x="306.4" y="748.6" width="1.7" height="1.7" fill="#98a0b7"/><rect x="308.1" y="748.6" width="3.4" height="1.7" fill="#dde2ec"/><rect x="311.6" y="748.6" width="1.7" height="1.7" fill="#98a0b7"/><rect x="313.3" y="748.6" width="1.7" height="1.7" fill="#6c748e"/><rect x="229.0" y="750.3" width="3.4" height="1.7" fill="#98a0b7"/><rect x="232.4" y="750.3" width="1.7" height="1.7" fill="#6c748e"/><rect x="234.2" y="750.3" width="1.7" height="1.7" fill="#c0c7d7"/><rect x="235.9" y="750.3" width="1.7" height="1.7" fill="#98a0b7"/><rect x="237.6" y="750.3" width="1.7" height="1.7" fill="#dde2ec"/><rect x="239.3" y="750.3" width="3.4" height="1.7" fill="#98a0b7"/><rect x="242.8" y="750.3" width="1.7" height="1.7" fill="#c0c7d7"/><rect x="244.5" y="750.3" width="1.7" height="1.7" fill="#98a0b7"/><rect x="246.2" y="750.3" width="3.4" height="1.7" fill="#6c748e"/><rect x="249.6" y="750.3" width="1.7" height="1.7" fill="#98a0b7"/><rect x="251.4" y="750.3" width="3.4" height="1.7" fill="#6c748e"/><rect x="254.8" y="750.3" width="1.7" height="1.7" fill="#c0c7d7"/><rect x="256.5" y="750.3" width="3.4" height="1.7" fill="#98a0b7"/><rect x="260.0" y="750.3" width="3.4" height="1.7" fill="#dde2ec"/><rect x="263.4" y="750.3" width="3.4" height="1.7" fill="#98a0b7"/><rect x="266.8" y="750.3" width="1.7" height="1.7" fill="#dde2ec"/><rect x="268.6" y="750.3" width="3.4" height="1.7" fill="#f3f5f9"/><rect x="272.0" y="750.3" width="1.7" height="1.7" fill="#98a0b7"/><rect x="273.7" y="750.3" width="1.7" height="1.7" fill="#c0c7d7"/><rect x="275.4" y="750.3" width="1.7" height="1.7" fill="#dde2ec"/><rect x="277.2" y="750.3" width="5.2" height="1.7" fill="#f3f5f9"/><rect x="282.3" y="750.3" width="3.4" height="1.7" fill="#dde2ec"/><rect x="285.8" y="750.3" width="1.7" height="1.7" fill="#f3f5f9"/><rect x="287.5" y="750.3" width="1.7" height="1.7" fill="#dde2ec"/><rect x="289.2" y="750.3" width="1.7" height="1.7" fill="#c0c7d7"/><rect x="290.9" y="750.3" width="3.4" height="1.7" fill="#98a0b7"/><rect x="294.4" y="750.3" width="1.7" height="1.7" fill="#c0c7d7"/><rect x="296.1" y="750.3" width="3.4" height="1.7" fill="#dde2ec"/><rect x="299.5" y="750.3" width="5.2" height="1.7" fill="#f3f5f9"/><rect x="304.7" y="750.3" width="3.4" height="1.7" fill="#c0c7d7"/><rect x="308.1" y="750.3" width="1.7" height="1.7" fill="#dde2ec"/><rect x="309.8" y="750.3" width="3.4" height="1.7" fill="#c0c7d7"/><rect x="313.3" y="750.3" width="1.7" height="1.7" fill="#6c748e"/><rect x="229.0" y="752.0" width="1.7" height="1.7" fill="#c0c7d7"/><rect x="230.7" y="752.0" width="1.7" height="1.7" fill="#dde2ec"/><rect x="232.4" y="752.0" width="1.7" height="1.7" fill="#98a0b7"/><rect x="234.2" y="752.0" width="1.7" height="1.7" fill="#c0c7d7"/><rect x="235.9" y="752.0" width="1.7" height="1.7" fill="#dde2ec"/><rect x="237.6" y="752.0" width="1.7" height="1.7" fill="#c0c7d7"/><rect x="239.3" y="752.0" width="5.2" height="1.7" fill="#dde2ec"/><rect x="244.5" y="752.0" width="1.7" height="1.7" fill="#98a0b7"/><rect x="246.2" y="752.0" width="3.4" height="1.7" fill="#6c748e"/><rect x="249.6" y="752.0" width="1.7" height="1.7" fill="#98a0b7"/><rect x="251.4" y="752.0" width="3.4" height="1.7" fill="#c0c7d7"/><rect x="254.8" y="752.0" width="3.4" height="1.7" fill="#98a0b7"/><rect x="258.2" y="752.0" width="1.7" height="1.7" fill="#c0c7d7"/><rect x="260.0" y="752.0" width="1.7" height="1.7" fill="#dde2ec"/><rect x="261.7" y="752.0" width="1.7" height="1.7" fill="#c0c7d7"/><rect x="263.4" y="752.0" width="3.4" height="1.7" fill="#98a0b7"/><rect x="266.8" y="752.0" width="1.7" height="1.7" fill="#c0c7d7"/><rect x="268.6" y="752.0" width="1.7" height="1.7" fill="#f3f5f9"/><rect x="270.3" y="752.0" width="5.2" height="1.7" fill="#dde2ec"/><rect x="275.4" y="752.0" width="1.7" height="1.7" fill="#f3f5f9"/><rect x="277.2" y="752.0" width="1.7" height="1.7" fill="#dde2ec"/><rect x="278.9" y="752.0" width="3.4" height="1.7" fill="#f3f5f9"/><rect x="282.3" y="752.0" width="8.6" height="1.7" fill="#dde2ec"/><rect x="290.9" y="752.0" width="1.7" height="1.7" fill="#c0c7d7"/><rect x="292.6" y="752.0" width="1.7" height="1.7" fill="#98a0b7"/><rect x="294.4" y="752.0" width="3.4" height="1.7" fill="#dde2ec"/><rect x="297.8" y="752.0" width="1.7" height="1.7" fill="#f3f5f9"/><rect x="299.5" y="752.0" width="1.7" height="1.7" fill="#dde2ec"/><rect x="301.2" y="752.0" width="6.9" height="1.7" fill="#f3f5f9"/><rect x="308.1" y="752.0" width="1.7" height="1.7" fill="#c0c7d7"/><rect x="309.8" y="752.0" width="3.4" height="1.7" fill="#6c748e"/><rect x="313.3" y="752.0" width="1.7" height="1.7" fill="#98a0b7"/><rect x="229.0" y="753.8" width="1.7" height="1.7" fill="#c0c7d7"/><rect x="230.7" y="753.8" width="1.7" height="1.7" fill="#f3f5f9"/><rect x="232.4" y="753.8" width="3.4" height="1.7" fill="#c0c7d7"/><rect x="235.9" y="753.8" width="1.7" height="1.7" fill="#dde2ec"/><rect x="237.6" y="753.8" width="3.4" height="1.7" fill="#f3f5f9"/><rect x="241.0" y="753.8" width="1.7" height="1.7" fill="#dde2ec"/><rect x="242.8" y="753.8" width="1.7" height="1.7" fill="#c0c7d7"/><rect x="244.5" y="753.8" width="12.0" height="1.7" fill="#98a0b7"/><rect x="256.5" y="753.8" width="1.7" height="1.7" fill="#c0c7d7"/><rect x="258.2" y="753.8" width="1.7" height="1.7" fill="#dde2ec"/><rect x="260.0" y="753.8" width="5.2" height="1.7" fill="#6c748e"/><rect x="265.1" y="753.8" width="3.4" height="1.7" fill="#dde2ec"/><rect x="268.6" y="753.8" width="3.4" height="1.7" fill="#f3f5f9"/><rect x="272.0" y="753.8" width="3.4" height="1.7" fill="#dde2ec"/><rect x="275.4" y="753.8" width="1.7" height="1.7" fill="#98a0b7"/><rect x="277.2" y="753.8" width="1.7" height="1.7" fill="#c0c7d7"/><rect x="278.9" y="753.8" width="3.4" height="1.7" fill="#f3f5f9"/><rect x="282.3" y="753.8" width="3.4" height="1.7" fill="#c0c7d7"/><rect x="285.8" y="753.8" width="1.7" height="1.7" fill="#98a0b7"/><rect x="287.5" y="753.8" width="1.7" height="1.7" fill="#c0c7d7"/><rect x="289.2" y="753.8" width="3.4" height="1.7" fill="#f3f5f9"/><rect x="292.6" y="753.8" width="1.7" height="1.7" fill="#c0c7d7"/><rect x="294.4" y="753.8" width="1.7" height="1.7" fill="#dde2ec"/><rect x="296.1" y="753.8" width="6.9" height="1.7" fill="#f3f5f9"/><rect x="303.0" y="753.8" width="1.7" height="1.7" fill="#dde2ec"/><rect x="304.7" y="753.8" width="3.4" height="1.7" fill="#f3f5f9"/><rect x="308.1" y="753.8" width="1.7" height="1.7" fill="#dde2ec"/><rect x="309.8" y="753.8" width="1.7" height="1.7" fill="#c0c7d7"/><rect x="311.6" y="753.8" width="1.7" height="1.7" fill="#6c748e"/><rect x="313.3" y="753.8" width="1.7" height="1.7" fill="#c0c7d7"/><rect x="229.0" y="755.5" width="5.2" height="1.7" fill="#dde2ec"/><rect x="234.2" y="755.5" width="1.7" height="1.7" fill="#c0c7d7"/><rect x="235.9" y="755.5" width="5.2" height="1.7" fill="#f3f5f9"/><rect x="241.0" y="755.5" width="5.2" height="1.7" fill="#dde2ec"/><rect x="246.2" y="755.5" width="3.4" height="1.7" fill="#c0c7d7"/><rect x="249.6" y="755.5" width="1.7" height="1.7" fill="#dde2ec"/><rect x="251.4" y="755.5" width="3.4" height="1.7" fill="#6c748e"/><rect x="254.8" y="755.5" width="1.7" height="1.7" fill="#c0c7d7"/><rect x="256.5" y="755.5" width="1.7" height="1.7" fill="#f3f5f9"/><rect x="258.2" y="755.5" width="1.7" height="1.7" fill="#dde2ec"/><rect x="260.0" y="755.5" width="5.2" height="1.7" fill="#6c748e"/><rect x="265.1" y="755.5" width="1.7" height="1.7" fill="#c0c7d7"/><rect x="266.8" y="755.5" width="3.4" height="1.7" fill="#dde2ec"/><rect x="270.3" y="755.5" width="1.7" height="1.7" fill="#c0c7d7"/><rect x="272.0" y="755.5" width="1.7" height="1.7" fill="#dde2ec"/><rect x="273.7" y="755.5" width="1.7" height="1.7" fill="#c0c7d7"/><rect x="275.4" y="755.5" width="1.7" height="1.7" fill="#6c748e"/><rect x="277.2" y="755.5" width="1.7" height="1.7" fill="#98a0b7"/><rect x="278.9" y="755.5" width="1.7" height="1.7" fill="#dde2ec"/><rect x="280.6" y="755.5" width="1.7" height="1.7" fill="#98a0b7"/><rect x="282.3" y="755.5" width="1.7" height="1.7" fill="#6c748e"/><rect x="284.0" y="755.5" width="1.7" height="1.7" fill="#c0c7d7"/><rect x="285.8" y="755.5" width="1.7" height="1.7" fill="#98a0b7"/><rect x="287.5" y="755.5" width="3.4" height="1.7" fill="#c0c7d7"/><rect x="290.9" y="755.5" width="1.7" height="1.7" fill="#f3f5f9"/><rect x="292.6" y="755.5" width="1.7" height="1.7" fill="#c0c7d7"/><rect x="294.4" y="755.5" width="1.7" height="1.7" fill="#98a0b7"/><rect x="296.1" y="755.5" width="1.7" height="1.7" fill="#dde2ec"/><rect x="297.8" y="755.5" width="8.6" height="1.7" fill="#f3f5f9"/><rect x="306.4" y="755.5" width="1.7" height="1.7" fill="#dde2ec"/><rect x="308.1" y="755.5" width="1.7" height="1.7" fill="#98a0b7"/><rect x="309.8" y="755.5" width="1.7" height="1.7" fill="#c0c7d7"/><rect x="311.6" y="755.5" width="3.4" height="1.7" fill="#98a0b7"/><rect x="229.0" y="757.2" width="1.7" height="1.7" fill="#6c748e"/><rect x="230.7" y="757.2" width="1.7" height="1.7" fill="#98a0b7"/><rect x="232.4" y="757.2" width="1.7" height="1.7" fill="#dde2ec"/><rect x="234.2" y="757.2" width="6.9" height="1.7" fill="#f3f5f9"/><rect x="241.0" y="757.2" width="1.7" height="1.7" fill="#dde2ec"/><rect x="242.8" y="757.2" width="1.7" height="1.7" fill="#f3f5f9"/><rect x="244.5" y="757.2" width="1.7" height="1.7" fill="#dde2ec"/><rect x="246.2" y="757.2" width="3.4" height="1.7" fill="#c0c7d7"/><rect x="249.6" y="757.2" width="1.7" height="1.7" fill="#dde2ec"/><rect x="251.4" y="757.2" width="5.2" height="1.7" fill="#c0c7d7"/><rect x="256.5" y="757.2" width="1.7" height="1.7" fill="#98a0b7"/><rect x="258.2" y="757.2" width="1.7" height="1.7" fill="#c0c7d7"/><rect x="260.0" y="757.2" width="1.7" height="1.7" fill="#98a0b7"/><rect x="261.7" y="757.2" width="3.4" height="1.7" fill="#6c748e"/><rect x="265.1" y="757.2" width="1.7" height="1.7" fill="#98a0b7"/><rect x="266.8" y="757.2" width="1.7" height="1.7" fill="#c0c7d7"/><rect x="268.6" y="757.2" width="1.7" height="1.7" fill="#dde2ec"/><rect x="270.3" y="757.2" width="3.4" height="1.7" fill="#98a0b7"/><rect x="273.7" y="757.2" width="1.7" height="1.7" fill="#c0c7d7"/><rect x="275.4" y="757.2" width="1.7" height="1.7" fill="#dde2ec"/><rect x="277.2" y="757.2" width="3.4" height="1.7" fill="#98a0b7"/><rect x="280.6" y="757.2" width="10.3" height="1.7" fill="#6c748e"/><rect x="290.9" y="757.2" width="3.4" height="1.7" fill="#c0c7d7"/><rect x="294.4" y="757.2" width="1.7" height="1.7" fill="#98a0b7"/><rect x="296.1" y="757.2" width="1.7" height="1.7" fill="#6c748e"/><rect x="297.8" y="757.2" width="5.2" height="1.7" fill="#98a0b7"/><rect x="303.0" y="757.2" width="1.7" height="1.7" fill="#c0c7d7"/><rect x="304.7" y="757.2" width="3.4" height="1.7" fill="#f3f5f9"/><rect x="308.1" y="757.2" width="1.7" height="1.7" fill="#98a0b7"/><rect x="309.8" y="757.2" width="3.4" height="1.7" fill="#6c748e"/><rect x="313.3" y="757.2" width="1.7" height="1.7" fill="#98a0b7"/><rect x="229.0" y="758.9" width="3.4" height="1.7" fill="#6c748e"/><rect x="232.4" y="758.9" width="1.7" height="1.7" fill="#dde2ec"/><rect x="234.2" y="758.9" width="5.2" height="1.7" fill="#f3f5f9"/><rect x="239.3" y="758.9" width="1.7" height="1.7" fill="#c0c7d7"/><rect x="241.0" y="758.9" width="1.7" height="1.7" fill="#98a0b7"/><rect x="242.8" y="758.9" width="3.4" height="1.7" fill="#c0c7d7"/><rect x="246.2" y="758.9" width="1.7" height="1.7" fill="#dde2ec"/><rect x="247.9" y="758.9" width="1.7" height="1.7" fill="#f3f5f9"/><rect x="249.6" y="758.9" width="1.7" height="1.7" fill="#dde2ec"/><rect x="251.4" y="758.9" width="1.7" height="1.7" fill="#f3f5f9"/><rect x="253.1" y="758.9" width="1.7" height="1.7" fill="#dde2ec"/><rect x="254.8" y="758.9" width="3.4" height="1.7" fill="#98a0b7"/><rect x="258.2" y="758.9" width="6.9" height="1.7" fill="#6c748e"/><rect x="265.1" y="758.9" width="1.7" height="1.7" fill="#c0c7d7"/><rect x="266.8" y="758.9" width="3.4" height="1.7" fill="#f3f5f9"/><rect x="270.3" y="758.9" width="1.7" height="1.7" fill="#c0c7d7"/><rect x="272.0" y="758.9" width="3.4" height="1.7" fill="#98a0b7"/><rect x="275.4" y="758.9" width="1.7" height="1.7" fill="#dde2ec"/><rect x="277.2" y="758.9" width="5.2" height="1.7" fill="#f3f5f9"/><rect x="282.3" y="758.9" width="1.7" height="1.7" fill="#c0c7d7"/><rect x="284.0" y="758.9" width="1.7" height="1.7" fill="#98a0b7"/><rect x="285.8" y="758.9" width="1.7" height="1.7" fill="#6c748e"/><rect x="287.5" y="758.9" width="3.4" height="1.7" fill="#98a0b7"/><rect x="290.9" y="758.9" width="3.4" height="1.7" fill="#c0c7d7"/><rect x="294.4" y="758.9" width="3.4" height="1.7" fill="#98a0b7"/><rect x="297.8" y="758.9" width="3.4" height="1.7" fill="#c0c7d7"/><rect x="301.2" y="758.9" width="1.7" height="1.7" fill="#98a0b7"/><rect x="303.0" y="758.9" width="1.7" height="1.7" fill="#6c748e"/><rect x="304.7" y="758.9" width="1.7" height="1.7" fill="#98a0b7"/><rect x="306.4" y="758.9" width="3.4" height="1.7" fill="#f3f5f9"/><rect x="309.8" y="758.9" width="3.4" height="1.7" fill="#c0c7d7"/><rect x="313.3" y="758.9" width="1.7" height="1.7" fill="#dde2ec"/><rect x="229.0" y="760.6" width="3.4" height="1.7" fill="#c0c7d7"/><rect x="232.4" y="760.6" width="1.7" height="1.7" fill="#f3f5f9"/><rect x="234.2" y="760.6" width="1.7" height="1.7" fill="#dde2ec"/><rect x="235.9" y="760.6" width="3.4" height="1.7" fill="#f3f5f9"/><rect x="239.3" y="760.6" width="1.7" height="1.7" fill="#98a0b7"/><rect x="241.0" y="760.6" width="1.7" height="1.7" fill="#c0c7d7"/><rect x="242.8" y="760.6" width="1.7" height="1.7" fill="#98a0b7"/><rect x="244.5" y="760.6" width="3.4" height="1.7" fill="#6c748e"/><rect x="247.9" y="760.6" width="5.2" height="1.7" fill="#c0c7d7"/><rect x="253.1" y="760.6" width="1.7" height="1.7" fill="#dde2ec"/><rect x="254.8" y="760.6" width="1.7" height="1.7" fill="#c0c7d7"/><rect x="256.5" y="760.6" width="1.7" height="1.7" fill="#dde2ec"/><rect x="258.2" y="760.6" width="1.7" height="1.7" fill="#98a0b7"/><rect x="260.0" y="760.6" width="5.2" height="1.7" fill="#6c748e"/><rect x="265.1" y="760.6" width="1.7" height="1.7" fill="#98a0b7"/><rect x="266.8" y="760.6" width="1.7" height="1.7" fill="#c0c7d7"/><rect x="268.6" y="760.6" width="1.7" height="1.7" fill="#dde2ec"/><rect x="270.3" y="760.6" width="1.7" height="1.7" fill="#c0c7d7"/><rect x="272.0" y="760.6" width="1.7" height="1.7" fill="#98a0b7"/><rect x="273.7" y="760.6" width="1.7" height="1.7" fill="#c0c7d7"/><rect x="275.4" y="760.6" width="1.7" height="1.7" fill="#dde2ec"/><rect x="277.2" y="760.6" width="5.2" height="1.7" fill="#f3f5f9"/><rect x="282.3" y="760.6" width="1.7" height="1.7" fill="#dde2ec"/><rect x="284.0" y="760.6" width="3.4" height="1.7" fill="#98a0b7"/><rect x="287.5" y="760.6" width="1.7" height="1.7" fill="#dde2ec"/><rect x="289.2" y="760.6" width="1.7" height="1.7" fill="#f3f5f9"/><rect x="290.9" y="760.6" width="1.7" height="1.7" fill="#dde2ec"/><rect x="292.6" y="760.6" width="1.7" height="1.7" fill="#98a0b7"/><rect x="294.4" y="760.6" width="1.7" height="1.7" fill="#c0c7d7"/><rect x="296.1" y="760.6" width="1.7" height="1.7" fill="#dde2ec"/><rect x="297.8" y="760.6" width="1.7" height="1.7" fill="#c0c7d7"/><rect x="299.5" y="760.6" width="1.7" height="1.7" fill="#dde2ec"/><rect x="301.2" y="760.6" width="1.7" height="1.7" fill="#c0c7d7"/><rect x="303.0" y="760.6" width="3.4" height="1.7" fill="#6c748e"/><rect x="306.4" y="760.6" width="1.7" height="1.7" fill="#c0c7d7"/><rect x="308.1" y="760.6" width="3.4" height="1.7" fill="#f3f5f9"/><rect x="311.6" y="760.6" width="3.4" height="1.7" fill="#c0c7d7"/><rect x="229.0" y="762.4" width="1.7" height="1.7" fill="#c0c7d7"/><rect x="230.7" y="762.4" width="1.7" height="1.7" fill="#f3f5f9"/><rect x="232.4" y="762.4" width="1.7" height="1.7" fill="#dde2ec"/><rect x="234.2" y="762.4" width="1.7" height="1.7" fill="#98a0b7"/><rect x="235.9" y="762.4" width="3.4" height="1.7" fill="#f3f5f9"/><rect x="239.3" y="762.4" width="5.2" height="1.7" fill="#c0c7d7"/><rect x="244.5" y="762.4" width="8.6" height="1.7" fill="#6c748e"/><rect x="253.1" y="762.4" width="1.7" height="1.7" fill="#98a0b7"/><rect x="254.8" y="762.4" width="6.9" height="1.7" fill="#c0c7d7"/><rect x="261.7" y="762.4" width="12.0" height="1.7" fill="#6c748e"/><rect x="273.7" y="762.4" width="1.7" height="1.7" fill="#98a0b7"/><rect x="275.4" y="762.4" width="1.7" height="1.7" fill="#dde2ec"/><rect x="277.2" y="762.4" width="1.7" height="1.7" fill="#c0c7d7"/><rect x="278.9" y="762.4" width="1.7" height="1.7" fill="#dde2ec"/><rect x="280.6" y="762.4" width="1.7" height="1.7" fill="#c0c7d7"/><rect x="282.3" y="762.4" width="1.7" height="1.7" fill="#98a0b7"/><rect x="284.0" y="762.4" width="3.4" height="1.7" fill="#6c748e"/><rect x="287.5" y="762.4" width="1.7" height="1.7" fill="#c0c7d7"/><rect x="289.2" y="762.4" width="1.7" height="1.7" fill="#f3f5f9"/><rect x="290.9" y="762.4" width="1.7" height="1.7" fill="#dde2ec"/><rect x="292.6" y="762.4" width="1.7" height="1.7" fill="#6c748e"/><rect x="294.4" y="762.4" width="1.7" height="1.7" fill="#c0c7d7"/><rect x="296.1" y="762.4" width="1.7" height="1.7" fill="#dde2ec"/><rect x="297.8" y="762.4" width="1.7" height="1.7" fill="#c0c7d7"/><rect x="299.5" y="762.4" width="1.7" height="1.7" fill="#98a0b7"/><rect x="301.2" y="762.4" width="1.7" height="1.7" fill="#dde2ec"/><rect x="303.0" y="762.4" width="3.4" height="1.7" fill="#98a0b7"/><rect x="306.4" y="762.4" width="1.7" height="1.7" fill="#c0c7d7"/><rect x="308.1" y="762.4" width="3.4" height="1.7" fill="#f3f5f9"/><rect x="311.6" y="762.4" width="1.7" height="1.7" fill="#dde2ec"/><rect x="313.3" y="762.4" width="1.7" height="1.7" fill="#c0c7d7"/><rect x="229.0" y="764.1" width="1.7" height="1.7" fill="#c0c7d7"/><rect x="230.7" y="764.1" width="1.7" height="1.7" fill="#dde2ec"/><rect x="232.4" y="764.1" width="3.4" height="1.7" fill="#c0c7d7"/><rect x="235.9" y="764.1" width="1.7" height="1.7" fill="#dde2ec"/><rect x="237.6" y="764.1" width="1.7" height="1.7" fill="#98a0b7"/><rect x="239.3" y="764.1" width="3.4" height="1.7" fill="#c0c7d7"/><rect x="242.8" y="764.1" width="1.7" height="1.7" fill="#98a0b7"/><rect x="244.5" y="764.1" width="1.7" height="1.7" fill="#c0c7d7"/><rect x="246.2" y="764.1" width="1.7" height="1.7" fill="#98a0b7"/><rect x="247.9" y="764.1" width="5.2" height="1.7" fill="#6c748e"/><rect x="253.1" y="764.1" width="1.7" height="1.7" fill="#98a0b7"/><rect x="254.8" y="764.1" width="1.7" height="1.7" fill="#6c748e"/><rect x="256.5" y="764.1" width="1.7" height="1.7" fill="#98a0b7"/><rect x="258.2" y="764.1" width="1.7" height="1.7" fill="#c0c7d7"/><rect x="260.0" y="764.1" width="1.7" height="1.7" fill="#98a0b7"/><rect x="261.7" y="764.1" width="1.7" height="1.7" fill="#6c748e"/><rect x="263.4" y="764.1" width="1.7" height="1.7" fill="#c0c7d7"/><rect x="265.1" y="764.1" width="3.4" height="1.7" fill="#98a0b7"/><rect x="268.6" y="764.1" width="3.4" height="1.7" fill="#6c748e"/><rect x="272.0" y="764.1" width="3.4" height="1.7" fill="#98a0b7"/><rect x="275.4" y="764.1" width="3.4" height="1.7" fill="#c0c7d7"/><rect x="278.9" y="764.1" width="3.4" height="1.7" fill="#dde2ec"/><rect x="282.3" y="764.1" width="1.7" height="1.7" fill="#98a0b7"/><rect x="284.0" y="764.1" width="1.7" height="1.7" fill="#6c748e"/><rect x="285.8" y="764.1" width="1.7" height="1.7" fill="#98a0b7"/><rect x="287.5" y="764.1" width="1.7" height="1.7" fill="#c0c7d7"/><rect x="289.2" y="764.1" width="1.7" height="1.7" fill="#dde2ec"/><rect x="290.9" y="764.1" width="1.7" height="1.7" fill="#c0c7d7"/><rect x="292.6" y="764.1" width="1.7" height="1.7" fill="#6c748e"/><rect x="294.4" y="764.1" width="1.7" height="1.7" fill="#98a0b7"/><rect x="296.1" y="764.1" width="1.7" height="1.7" fill="#c0c7d7"/><rect x="297.8" y="764.1" width="1.7" height="1.7" fill="#98a0b7"/><rect x="299.5" y="764.1" width="1.7" height="1.7" fill="#c0c7d7"/><rect x="301.2" y="764.1" width="3.4" height="1.7" fill="#dde2ec"/><rect x="304.7" y="764.1" width="1.7" height="1.7" fill="#98a0b7"/><rect x="306.4" y="764.1" width="3.4" height="1.7" fill="#dde2ec"/><rect x="309.8" y="764.1" width="1.7" height="1.7" fill="#c0c7d7"/><rect x="311.6" y="764.1" width="1.7" height="1.7" fill="#f3f5f9"/><rect x="313.3" y="764.1" width="1.7" height="1.7" fill="#dde2ec"/><rect x="229.0" y="765.8" width="1.7" height="1.7" fill="#6c748e"/><rect x="230.7" y="765.8" width="3.4" height="1.7" fill="#98a0b7"/><rect x="234.2" y="765.8" width="3.4" height="1.7" fill="#f3f5f9"/><rect x="237.6" y="765.8" width="3.4" height="1.7" fill="#c0c7d7"/><rect x="241.0" y="765.8" width="3.4" height="1.7" fill="#dde2ec"/><rect x="244.5" y="765.8" width="1.7" height="1.7" fill="#98a0b7"/><rect x="246.2" y="765.8" width="3.4" height="1.7" fill="#6c748e"/><rect x="249.6" y="765.8" width="3.4" height="1.7" fill="#c0c7d7"/><rect x="253.1" y="765.8" width="3.4" height="1.7" fill="#6c748e"/><rect x="256.5" y="765.8" width="3.4" height="1.7" fill="#98a0b7"/><rect x="260.0" y="765.8" width="1.7" height="1.7" fill="#6c748e"/><rect x="261.7" y="765.8" width="1.7" height="1.7" fill="#98a0b7"/><rect x="263.4" y="765.8" width="1.7" height="1.7" fill="#c0c7d7"/><rect x="265.1" y="765.8" width="3.4" height="1.7" fill="#98a0b7"/><rect x="268.6" y="765.8" width="5.2" height="1.7" fill="#c0c7d7"/><rect x="273.7" y="765.8" width="1.7" height="1.7" fill="#dde2ec"/><rect x="275.4" y="765.8" width="1.7" height="1.7" fill="#c0c7d7"/><rect x="277.2" y="765.8" width="1.7" height="1.7" fill="#98a0b7"/><rect x="278.9" y="765.8" width="1.7" height="1.7" fill="#dde2ec"/><rect x="280.6" y="765.8" width="3.4" height="1.7" fill="#f3f5f9"/><rect x="284.0" y="765.8" width="1.7" height="1.7" fill="#c0c7d7"/><rect x="285.8" y="765.8" width="5.2" height="1.7" fill="#dde2ec"/><rect x="290.9" y="765.8" width="1.7" height="1.7" fill="#c0c7d7"/><rect x="292.6" y="765.8" width="1.7" height="1.7" fill="#6c748e"/><rect x="294.4" y="765.8" width="1.7" height="1.7" fill="#c0c7d7"/><rect x="296.1" y="765.8" width="3.4" height="1.7" fill="#dde2ec"/><rect x="299.5" y="765.8" width="1.7" height="1.7" fill="#c0c7d7"/><rect x="301.2" y="765.8" width="1.7" height="1.7" fill="#dde2ec"/><rect x="303.0" y="765.8" width="1.7" height="1.7" fill="#c0c7d7"/><rect x="304.7" y="765.8" width="3.4" height="1.7" fill="#f3f5f9"/><rect x="308.1" y="765.8" width="3.4" height="1.7" fill="#98a0b7"/><rect x="311.6" y="765.8" width="3.4" height="1.7" fill="#f3f5f9"/><rect x="229.0" y="767.5" width="1.7" height="1.7" fill="#6c748e"/><rect x="230.7" y="767.5" width="1.7" height="1.7" fill="#98a0b7"/><rect x="232.4" y="767.5" width="3.4" height="1.7" fill="#f3f5f9"/><rect x="235.9" y="767.5" width="1.7" height="1.7" fill="#dde2ec"/><rect x="237.6" y="767.5" width="3.4" height="1.7" fill="#f3f5f9"/><rect x="241.0" y="767.5" width="3.4" height="1.7" fill="#dde2ec"/><rect x="244.5" y="767.5" width="1.7" height="1.7" fill="#98a0b7"/><rect x="246.2" y="767.5" width="3.4" height="1.7" fill="#6c748e"/><rect x="249.6" y="767.5" width="1.7" height="1.7" fill="#98a0b7"/><rect x="251.4" y="767.5" width="1.7" height="1.7" fill="#c0c7d7"/><rect x="253.1" y="767.5" width="5.2" height="1.7" fill="#98a0b7"/><rect x="258.2" y="767.5" width="1.7" height="1.7" fill="#c0c7d7"/><rect x="260.0" y="767.5" width="1.7" height="1.7" fill="#6c748e"/><rect x="261.7" y="767.5" width="1.7" height="1.7" fill="#98a0b7"/><rect x="263.4" y="767.5" width="1.7" height="1.7" fill="#c0c7d7"/><rect x="265.1" y="767.5" width="1.7" height="1.7" fill="#dde2ec"/><rect x="266.8" y="767.5" width="5.2" height="1.7" fill="#f3f5f9"/><rect x="272.0" y="767.5" width="3.4" height="1.7" fill="#dde2ec"/><rect x="275.4" y="767.5" width="3.4" height="1.7" fill="#98a0b7"/><rect x="278.9" y="767.5" width="5.2" height="1.7" fill="#dde2ec"/><rect x="284.0" y="767.5" width="3.4" height="1.7" fill="#c0c7d7"/><rect x="287.5" y="767.5" width="1.7" height="1.7" fill="#98a0b7"/><rect x="289.2" y="767.5" width="3.4" height="1.7" fill="#c0c7d7"/><rect x="292.6" y="767.5" width="6.9" height="1.7" fill="#98a0b7"/><rect x="299.5" y="767.5" width="5.2" height="1.7" fill="#c0c7d7"/><rect x="304.7" y="767.5" width="3.4" height="1.7" fill="#f3f5f9"/><rect x="308.1" y="767.5" width="1.7" height="1.7" fill="#dde2ec"/><rect x="309.8" y="767.5" width="1.7" height="1.7" fill="#6c748e"/><rect x="311.6" y="767.5" width="1.7" height="1.7" fill="#c0c7d7"/><rect x="313.3" y="767.5" width="1.7" height="1.7" fill="#dde2ec"/><rect x="229.0" y="769.2" width="1.7" height="1.7" fill="#98a0b7"/><rect x="230.7" y="769.2" width="1.7" height="1.7" fill="#c0c7d7"/><rect x="232.4" y="769.2" width="1.7" height="1.7" fill="#f3f5f9"/><rect x="234.2" y="769.2" width="5.2" height="1.7" fill="#c0c7d7"/><rect x="239.3" y="769.2" width="3.4" height="1.7" fill="#f3f5f9"/><rect x="242.8" y="769.2" width="5.2" height="1.7" fill="#c0c7d7"/><rect x="247.9" y="769.2" width="1.7" height="1.7" fill="#98a0b7"/><rect x="249.6" y="769.2" width="1.7" height="1.7" fill="#6c748e"/><rect x="251.4" y="769.2" width="3.4" height="1.7" fill="#dde2ec"/><rect x="254.8" y="769.2" width="1.7" height="1.7" fill="#c0c7d7"/><rect x="256.5" y="769.2" width="3.4" height="1.7" fill="#dde2ec"/><rect x="260.0" y="769.2" width="1.7" height="1.7" fill="#c0c7d7"/><rect x="261.7" y="769.2" width="8.6" height="1.7" fill="#f3f5f9"/><rect x="270.3" y="769.2" width="3.4" height="1.7" fill="#dde2ec"/><rect x="273.7" y="769.2" width="1.7" height="1.7" fill="#98a0b7"/><rect x="275.4" y="769.2" width="3.4" height="1.7" fill="#c0c7d7"/><rect x="278.9" y="769.2" width="3.4" height="1.7" fill="#dde2ec"/><rect x="282.3" y="769.2" width="1.7" height="1.7" fill="#c0c7d7"/><rect x="284.0" y="769.2" width="3.4" height="1.7" fill="#dde2ec"/><rect x="287.5" y="769.2" width="1.7" height="1.7" fill="#98a0b7"/><rect x="289.2" y="769.2" width="1.7" height="1.7" fill="#c0c7d7"/><rect x="290.9" y="769.2" width="1.7" height="1.7" fill="#98a0b7"/><rect x="292.6" y="769.2" width="5.2" height="1.7" fill="#6c748e"/><rect x="297.8" y="769.2" width="3.4" height="1.7" fill="#98a0b7"/><rect x="301.2" y="769.2" width="1.7" height="1.7" fill="#6c748e"/><rect x="303.0" y="769.2" width="3.4" height="1.7" fill="#c0c7d7"/><rect x="306.4" y="769.2" width="1.7" height="1.7" fill="#f3f5f9"/><rect x="308.1" y="769.2" width="3.4" height="1.7" fill="#c0c7d7"/><rect x="311.6" y="769.2" width="1.7" height="1.7" fill="#98a0b7"/><rect x="313.3" y="769.2" width="1.7" height="1.7" fill="#dde2ec"/><rect x="229.0" y="771.0" width="1.7" height="1.7" fill="#98a0b7"/><rect x="230.7" y="771.0" width="6.9" height="1.7" fill="#dde2ec"/><rect x="237.6" y="771.0" width="3.4" height="1.7" fill="#6c748e"/><rect x="241.0" y="771.0" width="1.7" height="1.7" fill="#dde2ec"/><rect x="242.8" y="771.0" width="1.7" height="1.7" fill="#f3f5f9"/><rect x="244.5" y="771.0" width="1.7" height="1.7" fill="#dde2ec"/><rect x="246.2" y="771.0" width="3.4" height="1.7" fill="#c0c7d7"/><rect x="249.6" y="771.0" width="3.4" height="1.7" fill="#98a0b7"/><rect x="253.1" y="771.0" width="1.7" height="1.7" fill="#c0c7d7"/><rect x="254.8" y="771.0" width="1.7" height="1.7" fill="#dde2ec"/><rect x="256.5" y="771.0" width="1.7" height="1.7" fill="#f3f5f9"/><rect x="258.2" y="771.0" width="3.4" height="1.7" fill="#dde2ec"/><rect x="261.7" y="771.0" width="1.7" height="1.7" fill="#f3f5f9"/><rect x="263.4" y="771.0" width="3.4" height="1.7" fill="#dde2ec"/><rect x="266.8" y="771.0" width="3.4" height="1.7" fill="#f3f5f9"/><rect x="270.3" y="771.0" width="1.7" height="1.7" fill="#98a0b7"/><rect x="272.0" y="771.0" width="3.4" height="1.7" fill="#c0c7d7"/><rect x="275.4" y="771.0" width="3.4" height="1.7" fill="#98a0b7"/><rect x="278.9" y="771.0" width="1.7" height="1.7" fill="#c0c7d7"/><rect x="280.6" y="771.0" width="1.7" height="1.7" fill="#dde2ec"/><rect x="282.3" y="771.0" width="5.2" height="1.7" fill="#c0c7d7"/><rect x="287.5" y="771.0" width="3.4" height="1.7" fill="#dde2ec"/><rect x="290.9" y="771.0" width="3.4" height="1.7" fill="#c0c7d7"/><rect x="294.4" y="771.0" width="3.4" height="1.7" fill="#6c748e"/><rect x="297.8" y="771.0" width="1.7" height="1.7" fill="#c0c7d7"/><rect x="299.5" y="771.0" width="5.2" height="1.7" fill="#6c748e"/><rect x="304.7" y="771.0" width="1.7" height="1.7" fill="#98a0b7"/><rect x="306.4" y="771.0" width="1.7" height="1.7" fill="#c0c7d7"/><rect x="308.1" y="771.0" width="1.7" height="1.7" fill="#dde2ec"/><rect x="309.8" y="771.0" width="1.7" height="1.7" fill="#c0c7d7"/><rect x="311.6" y="771.0" width="1.7" height="1.7" fill="#98a0b7"/><rect x="313.3" y="771.0" width="1.7" height="1.7" fill="#c0c7d7"/><rect x="229.0" y="772.7" width="1.7" height="1.7" fill="#c0c7d7"/><rect x="230.7" y="772.7" width="1.7" height="1.7" fill="#dde2ec"/><rect x="232.4" y="772.7" width="1.7" height="1.7" fill="#f3f5f9"/><rect x="234.2" y="772.7" width="1.7" height="1.7" fill="#dde2ec"/><rect x="235.9" y="772.7" width="1.7" height="1.7" fill="#f3f5f9"/><rect x="237.6" y="772.7" width="1.7" height="1.7" fill="#98a0b7"/><rect x="239.3" y="772.7" width="1.7" height="1.7" fill="#6c748e"/><rect x="241.0" y="772.7" width="3.4" height="1.7" fill="#dde2ec"/><rect x="244.5" y="772.7" width="1.7" height="1.7" fill="#c0c7d7"/><rect x="246.2" y="772.7" width="3.4" height="1.7" fill="#98a0b7"/><rect x="249.6" y="772.7" width="3.4" height="1.7" fill="#dde2ec"/><rect x="253.1" y="772.7" width="1.7" height="1.7" fill="#98a0b7"/><rect x="254.8" y="772.7" width="1.7" height="1.7" fill="#c0c7d7"/><rect x="256.5" y="772.7" width="3.4" height="1.7" fill="#f3f5f9"/><rect x="260.0" y="772.7" width="3.4" height="1.7" fill="#dde2ec"/><rect x="263.4" y="772.7" width="1.7" height="1.7" fill="#c0c7d7"/><rect x="265.1" y="772.7" width="1.7" height="1.7" fill="#dde2ec"/><rect x="266.8" y="772.7" width="1.7" height="1.7" fill="#f3f5f9"/><rect x="268.6" y="772.7" width="1.7" height="1.7" fill="#dde2ec"/><rect x="270.3" y="772.7" width="1.7" height="1.7" fill="#98a0b7"/><rect x="272.0" y="772.7" width="1.7" height="1.7" fill="#6c748e"/><rect x="273.7" y="772.7" width="3.4" height="1.7" fill="#dde2ec"/><rect x="277.2" y="772.7" width="1.7" height="1.7" fill="#98a0b7"/><rect x="278.9" y="772.7" width="3.4" height="1.7" fill="#c0c7d7"/><rect x="282.3" y="772.7" width="3.4" height="1.7" fill="#6c748e"/><rect x="285.8" y="772.7" width="1.7" height="1.7" fill="#98a0b7"/><rect x="287.5" y="772.7" width="5.2" height="1.7" fill="#c0c7d7"/><rect x="292.6" y="772.7" width="1.7" height="1.7" fill="#6c748e"/><rect x="294.4" y="772.7" width="1.7" height="1.7" fill="#98a0b7"/><rect x="296.1" y="772.7" width="1.7" height="1.7" fill="#dde2ec"/><rect x="297.8" y="772.7" width="5.2" height="1.7" fill="#98a0b7"/><rect x="303.0" y="772.7" width="3.4" height="1.7" fill="#6c748e"/><rect x="306.4" y="772.7" width="1.7" height="1.7" fill="#dde2ec"/><rect x="308.1" y="772.7" width="1.7" height="1.7" fill="#f3f5f9"/><rect x="309.8" y="772.7" width="1.7" height="1.7" fill="#dde2ec"/><rect x="311.6" y="772.7" width="1.7" height="1.7" fill="#c0c7d7"/><rect x="313.3" y="772.7" width="1.7" height="1.7" fill="#98a0b7"/><rect x="229.0" y="774.4" width="6.9" height="1.7" fill="#c0c7d7"/><rect x="235.9" y="774.4" width="1.7" height="1.7" fill="#dde2ec"/><rect x="237.6" y="774.4" width="3.4" height="1.7" fill="#6c748e"/><rect x="241.0" y="774.4" width="1.7" height="1.7" fill="#dde2ec"/><rect x="242.8" y="774.4" width="3.4" height="1.7" fill="#f3f5f9"/><rect x="246.2" y="774.4" width="1.7" height="1.7" fill="#dde2ec"/><rect x="247.9" y="774.4" width="1.7" height="1.7" fill="#c0c7d7"/><rect x="249.6" y="774.4" width="1.7" height="1.7" fill="#dde2ec"/><rect x="251.4" y="774.4" width="8.6" height="1.7" fill="#f3f5f9"/><rect x="260.0" y="774.4" width="1.7" height="1.7" fill="#98a0b7"/><rect x="261.7" y="774.4" width="1.7" height="1.7" fill="#6c748e"/><rect x="263.4" y="774.4" width="1.7" height="1.7" fill="#dde2ec"/><rect x="265.1" y="774.4" width="1.7" height="1.7" fill="#c0c7d7"/><rect x="266.8" y="774.4" width="3.4" height="1.7" fill="#dde2ec"/><rect x="270.3" y="774.4" width="3.4" height="1.7" fill="#c0c7d7"/><rect x="273.7" y="774.4" width="1.7" height="1.7" fill="#dde2ec"/><rect x="275.4" y="774.4" width="3.4" height="1.7" fill="#f3f5f9"/><rect x="278.9" y="774.4" width="3.4" height="1.7" fill="#98a0b7"/><rect x="282.3" y="774.4" width="3.4" height="1.7" fill="#6c748e"/><rect x="285.8" y="774.4" width="1.7" height="1.7" fill="#dde2ec"/><rect x="287.5" y="774.4" width="1.7" height="1.7" fill="#f3f5f9"/><rect x="289.2" y="774.4" width="1.7" height="1.7" fill="#98a0b7"/><rect x="290.9" y="774.4" width="3.4" height="1.7" fill="#6c748e"/><rect x="294.4" y="774.4" width="1.7" height="1.7" fill="#dde2ec"/><rect x="296.1" y="774.4" width="1.7" height="1.7" fill="#f3f5f9"/><rect x="297.8" y="774.4" width="3.4" height="1.7" fill="#c0c7d7"/><rect x="301.2" y="774.4" width="1.7" height="1.7" fill="#f3f5f9"/><rect x="303.0" y="774.4" width="1.7" height="1.7" fill="#dde2ec"/><rect x="304.7" y="774.4" width="1.7" height="1.7" fill="#98a0b7"/><rect x="306.4" y="774.4" width="1.7" height="1.7" fill="#dde2ec"/><rect x="308.1" y="774.4" width="3.4" height="1.7" fill="#f3f5f9"/><rect x="311.6" y="774.4" width="1.7" height="1.7" fill="#c0c7d7"/><rect x="313.3" y="774.4" width="1.7" height="1.7" fill="#98a0b7"/><rect x="229.0" y="776.1" width="1.7" height="1.7" fill="#98a0b7"/><rect x="230.7" y="776.1" width="5.2" height="1.7" fill="#dde2ec"/><rect x="235.9" y="776.1" width="1.7" height="1.7" fill="#c0c7d7"/><rect x="237.6" y="776.1" width="3.4" height="1.7" fill="#6c748e"/><rect x="241.0" y="776.1" width="1.7" height="1.7" fill="#c0c7d7"/><rect x="242.8" y="776.1" width="5.2" height="1.7" fill="#f3f5f9"/><rect x="247.9" y="776.1" width="1.7" height="1.7" fill="#dde2ec"/><rect x="249.6" y="776.1" width="10.3" height="1.7" fill="#f3f5f9"/><rect x="260.0" y="776.1" width="1.7" height="1.7" fill="#c0c7d7"/><rect x="261.7" y="776.1" width="3.4" height="1.7" fill="#6c748e"/><rect x="265.1" y="776.1" width="1.7" height="1.7" fill="#dde2ec"/><rect x="266.8" y="776.1" width="1.7" height="1.7" fill="#c0c7d7"/><rect x="268.6" y="776.1" width="3.4" height="1.7" fill="#98a0b7"/><rect x="272.0" y="776.1" width="1.7" height="1.7" fill="#c0c7d7"/><rect x="273.7" y="776.1" width="1.7" height="1.7" fill="#98a0b7"/><rect x="275.4" y="776.1" width="1.7" height="1.7" fill="#f3f5f9"/><rect x="277.2" y="776.1" width="3.4" height="1.7" fill="#dde2ec"/><rect x="280.6" y="776.1" width="1.7" height="1.7" fill="#f3f5f9"/><rect x="282.3" y="776.1" width="1.7" height="1.7" fill="#dde2ec"/><rect x="284.0" y="776.1" width="1.7" height="1.7" fill="#c0c7d7"/><rect x="285.8" y="776.1" width="1.7" height="1.7" fill="#dde2ec"/><rect x="287.5" y="776.1" width="1.7" height="1.7" fill="#f3f5f9"/><rect x="289.2" y="776.1" width="1.7" height="1.7" fill="#dde2ec"/><rect x="290.9" y="776.1" width="1.7" height="1.7" fill="#6c748e"/><rect x="292.6" y="776.1" width="1.7" height="1.7" fill="#98a0b7"/><rect x="294.4" y="776.1" width="1.7" height="1.7" fill="#f3f5f9"/><rect x="296.1" y="776.1" width="1.7" height="1.7" fill="#dde2ec"/><rect x="297.8" y="776.1" width="1.7" height="1.7" fill="#98a0b7"/><rect x="299.5" y="776.1" width="3.4" height="1.7" fill="#dde2ec"/><rect x="303.0" y="776.1" width="1.7" height="1.7" fill="#c0c7d7"/><rect x="304.7" y="776.1" width="1.7" height="1.7" fill="#dde2ec"/><rect x="306.4" y="776.1" width="1.7" height="1.7" fill="#98a0b7"/><rect x="308.1" y="776.1" width="5.2" height="1.7" fill="#c0c7d7"/><rect x="313.3" y="776.1" width="1.7" height="1.7" fill="#dde2ec"/><rect x="229.0" y="777.8" width="3.4" height="1.7" fill="#c0c7d7"/><rect x="232.4" y="777.8" width="1.7" height="1.7" fill="#dde2ec"/><rect x="234.2" y="777.8" width="1.7" height="1.7" fill="#f3f5f9"/><rect x="235.9" y="777.8" width="1.7" height="1.7" fill="#c0c7d7"/><rect x="237.6" y="777.8" width="1.7" height="1.7" fill="#98a0b7"/><rect x="239.3" y="777.8" width="1.7" height="1.7" fill="#6c748e"/><rect x="241.0" y="777.8" width="1.7" height="1.7" fill="#98a0b7"/><rect x="242.8" y="777.8" width="1.7" height="1.7" fill="#dde2ec"/><rect x="244.5" y="777.8" width="1.7" height="1.7" fill="#f3f5f9"/><rect x="246.2" y="777.8" width="3.4" height="1.7" fill="#dde2ec"/><rect x="249.6" y="777.8" width="3.4" height="1.7" fill="#c0c7d7"/><rect x="253.1" y="777.8" width="1.7" height="1.7" fill="#dde2ec"/><rect x="254.8" y="777.8" width="1.7" height="1.7" fill="#c0c7d7"/><rect x="256.5" y="777.8" width="3.4" height="1.7" fill="#dde2ec"/><rect x="260.0" y="777.8" width="3.4" height="1.7" fill="#98a0b7"/><rect x="263.4" y="777.8" width="1.7" height="1.7" fill="#6c748e"/><rect x="265.1" y="777.8" width="1.7" height="1.7" fill="#c0c7d7"/><rect x="266.8" y="777.8" width="1.7" height="1.7" fill="#98a0b7"/><rect x="268.6" y="777.8" width="1.7" height="1.7" fill="#c0c7d7"/><rect x="270.3" y="777.8" width="1.7" height="1.7" fill="#dde2ec"/><rect x="272.0" y="777.8" width="1.7" height="1.7" fill="#c0c7d7"/><rect x="273.7" y="777.8" width="1.7" height="1.7" fill="#98a0b7"/><rect x="275.4" y="777.8" width="1.7" height="1.7" fill="#dde2ec"/><rect x="277.2" y="777.8" width="1.7" height="1.7" fill="#c0c7d7"/><rect x="278.9" y="777.8" width="3.4" height="1.7" fill="#dde2ec"/><rect x="282.3" y="777.8" width="1.7" height="1.7" fill="#c0c7d7"/><rect x="284.0" y="777.8" width="10.3" height="1.7" fill="#dde2ec"/><rect x="294.4" y="777.8" width="1.7" height="1.7" fill="#f3f5f9"/><rect x="296.1" y="777.8" width="1.7" height="1.7" fill="#c0c7d7"/><rect x="297.8" y="777.8" width="1.7" height="1.7" fill="#98a0b7"/><rect x="299.5" y="777.8" width="1.7" height="1.7" fill="#f3f5f9"/><rect x="301.2" y="777.8" width="6.9" height="1.7" fill="#c0c7d7"/><rect x="308.1" y="777.8" width="3.4" height="1.7" fill="#dde2ec"/><rect x="311.6" y="777.8" width="3.4" height="1.7" fill="#c0c7d7"/><rect x="229.0" y="779.6" width="3.4" height="1.7" fill="#f3f5f9"/><rect x="232.4" y="779.6" width="1.7" height="1.7" fill="#c0c7d7"/><rect x="234.2" y="779.6" width="3.4" height="1.7" fill="#dde2ec"/><rect x="237.6" y="779.6" width="1.7" height="1.7" fill="#98a0b7"/><rect x="239.3" y="779.6" width="1.7" height="1.7" fill="#6c748e"/><rect x="241.0" y="779.6" width="5.2" height="1.7" fill="#98a0b7"/><rect x="246.2" y="779.6" width="3.4" height="1.7" fill="#f3f5f9"/><rect x="249.6" y="779.6" width="3.4" height="1.7" fill="#dde2ec"/><rect x="253.1" y="779.6" width="1.7" height="1.7" fill="#c0c7d7"/><rect x="254.8" y="779.6" width="1.7" height="1.7" fill="#98a0b7"/><rect x="256.5" y="779.6" width="1.7" height="1.7" fill="#6c748e"/><rect x="258.2" y="779.6" width="1.7" height="1.7" fill="#98a0b7"/><rect x="260.0" y="779.6" width="3.4" height="1.7" fill="#c0c7d7"/><rect x="263.4" y="779.6" width="1.7" height="1.7" fill="#98a0b7"/><rect x="265.1" y="779.6" width="3.4" height="1.7" fill="#6c748e"/><rect x="268.6" y="779.6" width="1.7" height="1.7" fill="#c0c7d7"/><rect x="270.3" y="779.6" width="1.7" height="1.7" fill="#f3f5f9"/><rect x="272.0" y="779.6" width="1.7" height="1.7" fill="#c0c7d7"/><rect x="273.7" y="779.6" width="6.9" height="1.7" fill="#98a0b7"/><rect x="280.6" y="779.6" width="1.7" height="1.7" fill="#c0c7d7"/><rect x="282.3" y="779.6" width="1.7" height="1.7" fill="#98a0b7"/><rect x="284.0" y="779.6" width="1.7" height="1.7" fill="#dde2ec"/><rect x="285.8" y="779.6" width="3.4" height="1.7" fill="#c0c7d7"/><rect x="289.2" y="779.6" width="1.7" height="1.7" fill="#dde2ec"/><rect x="290.9" y="779.6" width="1.7" height="1.7" fill="#c0c7d7"/><rect x="292.6" y="779.6" width="1.7" height="1.7" fill="#f3f5f9"/><rect x="294.4" y="779.6" width="1.7" height="1.7" fill="#dde2ec"/><rect x="296.1" y="779.6" width="1.7" height="1.7" fill="#98a0b7"/><rect x="297.8" y="779.6" width="1.7" height="1.7" fill="#c0c7d7"/><rect x="299.5" y="779.6" width="1.7" height="1.7" fill="#dde2ec"/><rect x="301.2" y="779.6" width="1.7" height="1.7" fill="#c0c7d7"/><rect x="303.0" y="779.6" width="1.7" height="1.7" fill="#98a0b7"/><rect x="304.7" y="779.6" width="3.4" height="1.7" fill="#c0c7d7"/><rect x="308.1" y="779.6" width="1.7" height="1.7" fill="#dde2ec"/><rect x="309.8" y="779.6" width="3.4" height="1.7" fill="#98a0b7"/><rect x="313.3" y="779.6" width="1.7" height="1.7" fill="#c0c7d7"/><rect x="229.0" y="781.3" width="3.4" height="1.7" fill="#f3f5f9"/><rect x="232.4" y="781.3" width="3.4" height="1.7" fill="#c0c7d7"/><rect x="235.9" y="781.3" width="3.4" height="1.7" fill="#6c748e"/><rect x="239.3" y="781.3" width="1.7" height="1.7" fill="#98a0b7"/><rect x="241.0" y="781.3" width="1.7" height="1.7" fill="#6c748e"/><rect x="242.8" y="781.3" width="5.2" height="1.7" fill="#c0c7d7"/><rect x="247.9" y="781.3" width="5.2" height="1.7" fill="#f3f5f9"/><rect x="253.1" y="781.3" width="3.4" height="1.7" fill="#98a0b7"/><rect x="256.5" y="781.3" width="1.7" height="1.7" fill="#c0c7d7"/><rect x="258.2" y="781.3" width="1.7" height="1.7" fill="#98a0b7"/><rect x="260.0" y="781.3" width="1.7" height="1.7" fill="#c0c7d7"/><rect x="261.7" y="781.3" width="1.7" height="1.7" fill="#dde2ec"/><rect x="263.4" y="781.3" width="1.7" height="1.7" fill="#98a0b7"/><rect x="265.1" y="781.3" width="3.4" height="1.7" fill="#6c748e"/><rect x="268.6" y="781.3" width="1.7" height="1.7" fill="#c0c7d7"/><rect x="270.3" y="781.3" width="3.4" height="1.7" fill="#f3f5f9"/><rect x="273.7" y="781.3" width="1.7" height="1.7" fill="#dde2ec"/><rect x="275.4" y="781.3" width="1.7" height="1.7" fill="#98a0b7"/><rect x="277.2" y="781.3" width="5.2" height="1.7" fill="#6c748e"/><rect x="282.3" y="781.3" width="1.7" height="1.7" fill="#dde2ec"/><rect x="284.0" y="781.3" width="1.7" height="1.7" fill="#c0c7d7"/><rect x="285.8" y="781.3" width="1.7" height="1.7" fill="#6c748e"/><rect x="287.5" y="781.3" width="5.2" height="1.7" fill="#c0c7d7"/><rect x="292.6" y="781.3" width="3.4" height="1.7" fill="#f3f5f9"/><rect x="296.1" y="781.3" width="1.7" height="1.7" fill="#c0c7d7"/><rect x="297.8" y="781.3" width="1.7" height="1.7" fill="#dde2ec"/><rect x="299.5" y="781.3" width="3.4" height="1.7" fill="#c0c7d7"/><rect x="303.0" y="781.3" width="3.4" height="1.7" fill="#dde2ec"/><rect x="306.4" y="781.3" width="3.4" height="1.7" fill="#98a0b7"/><rect x="309.8" y="781.3" width="1.7" height="1.7" fill="#dde2ec"/><rect x="311.6" y="781.3" width="3.4" height="1.7" fill="#c0c7d7"/><rect x="229.0" y="783.0" width="1.7" height="1.7" fill="#f3f5f9"/><rect x="230.7" y="783.0" width="3.4" height="1.7" fill="#c0c7d7"/><rect x="234.2" y="783.0" width="8.6" height="1.7" fill="#6c748e"/><rect x="242.8" y="783.0" width="1.7" height="1.7" fill="#98a0b7"/><rect x="244.5" y="783.0" width="1.7" height="1.7" fill="#dde2ec"/><rect x="246.2" y="783.0" width="3.4" height="1.7" fill="#c0c7d7"/><rect x="249.6" y="783.0" width="3.4" height="1.7" fill="#f3f5f9"/><rect x="253.1" y="783.0" width="5.2" height="1.7" fill="#dde2ec"/><rect x="258.2" y="783.0" width="1.7" height="1.7" fill="#c0c7d7"/><rect x="260.0" y="783.0" width="1.7" height="1.7" fill="#dde2ec"/><rect x="261.7" y="783.0" width="1.7" height="1.7" fill="#c0c7d7"/><rect x="263.4" y="783.0" width="1.7" height="1.7" fill="#dde2ec"/><rect x="265.1" y="783.0" width="1.7" height="1.7" fill="#c0c7d7"/><rect x="266.8" y="783.0" width="3.4" height="1.7" fill="#98a0b7"/><rect x="270.3" y="783.0" width="1.7" height="1.7" fill="#c0c7d7"/><rect x="272.0" y="783.0" width="3.4" height="1.7" fill="#f3f5f9"/><rect x="275.4" y="783.0" width="1.7" height="1.7" fill="#dde2ec"/><rect x="277.2" y="783.0" width="5.2" height="1.7" fill="#6c748e"/><rect x="282.3" y="783.0" width="1.7" height="1.7" fill="#98a0b7"/><rect x="284.0" y="783.0" width="1.7" height="1.7" fill="#6c748e"/><rect x="285.8" y="783.0" width="1.7" height="1.7" fill="#98a0b7"/><rect x="287.5" y="783.0" width="1.7" height="1.7" fill="#c0c7d7"/><rect x="289.2" y="783.0" width="6.9" height="1.7" fill="#f3f5f9"/><rect x="296.1" y="783.0" width="3.4" height="1.7" fill="#c0c7d7"/><rect x="299.5" y="783.0" width="1.7" height="1.7" fill="#98a0b7"/><rect x="301.2" y="783.0" width="1.7" height="1.7" fill="#c0c7d7"/><rect x="303.0" y="783.0" width="1.7" height="1.7" fill="#dde2ec"/><rect x="304.7" y="783.0" width="1.7" height="1.7" fill="#98a0b7"/><rect x="306.4" y="783.0" width="1.7" height="1.7" fill="#6c748e"/><rect x="308.1" y="783.0" width="1.7" height="1.7" fill="#c0c7d7"/><rect x="309.8" y="783.0" width="3.4" height="1.7" fill="#f3f5f9"/><rect x="313.3" y="783.0" width="1.7" height="1.7" fill="#98a0b7"/><rect x="229.0" y="784.7" width="1.7" height="1.7" fill="#98a0b7"/><rect x="230.7" y="784.7" width="1.7" height="1.7" fill="#6c748e"/><rect x="232.4" y="784.7" width="1.7" height="1.7" fill="#98a0b7"/><rect x="234.2" y="784.7" width="1.7" height="1.7" fill="#c0c7d7"/><rect x="235.9" y="784.7" width="1.7" height="1.7" fill="#98a0b7"/><rect x="237.6" y="784.7" width="1.7" height="1.7" fill="#c0c7d7"/><rect x="239.3" y="784.7" width="1.7" height="1.7" fill="#98a0b7"/><rect x="241.0" y="784.7" width="1.7" height="1.7" fill="#6c748e"/><rect x="242.8" y="784.7" width="1.7" height="1.7" fill="#98a0b7"/><rect x="244.5" y="784.7" width="1.7" height="1.7" fill="#c0c7d7"/><rect x="246.2" y="784.7" width="1.7" height="1.7" fill="#98a0b7"/><rect x="247.9" y="784.7" width="1.7" height="1.7" fill="#6c748e"/><rect x="249.6" y="784.7" width="1.7" height="1.7" fill="#dde2ec"/><rect x="251.4" y="784.7" width="1.7" height="1.7" fill="#f3f5f9"/><rect x="253.1" y="784.7" width="1.7" height="1.7" fill="#c0c7d7"/><rect x="254.8" y="784.7" width="1.7" height="1.7" fill="#98a0b7"/><rect x="256.5" y="784.7" width="5.2" height="1.7" fill="#c0c7d7"/><rect x="261.7" y="784.7" width="1.7" height="1.7" fill="#f3f5f9"/><rect x="263.4" y="784.7" width="3.4" height="1.7" fill="#dde2ec"/><rect x="266.8" y="784.7" width="1.7" height="1.7" fill="#c0c7d7"/><rect x="268.6" y="784.7" width="1.7" height="1.7" fill="#6c748e"/><rect x="270.3" y="784.7" width="3.4" height="1.7" fill="#98a0b7"/><rect x="273.7" y="784.7" width="3.4" height="1.7" fill="#dde2ec"/><rect x="277.2" y="784.7" width="6.9" height="1.7" fill="#6c748e"/><rect x="284.0" y="784.7" width="1.7" height="1.7" fill="#98a0b7"/><rect x="285.8" y="784.7" width="1.7" height="1.7" fill="#dde2ec"/><rect x="287.5" y="784.7" width="8.6" height="1.7" fill="#f3f5f9"/><rect x="296.1" y="784.7" width="1.7" height="1.7" fill="#c0c7d7"/><rect x="297.8" y="784.7" width="1.7" height="1.7" fill="#dde2ec"/><rect x="299.5" y="784.7" width="3.4" height="1.7" fill="#c0c7d7"/><rect x="303.0" y="784.7" width="1.7" height="1.7" fill="#dde2ec"/><rect x="304.7" y="784.7" width="3.4" height="1.7" fill="#6c748e"/><rect x="308.1" y="784.7" width="3.4" height="1.7" fill="#dde2ec"/><rect x="311.6" y="784.7" width="1.7" height="1.7" fill="#c0c7d7"/><rect x="313.3" y="784.7" width="1.7" height="1.7" fill="#6c748e"/><rect x="229.0" y="786.4" width="1.7" height="1.7" fill="#dde2ec"/><rect x="230.7" y="786.4" width="3.4" height="1.7" fill="#c0c7d7"/><rect x="234.2" y="786.4" width="3.4" height="1.7" fill="#f3f5f9"/><rect x="237.6" y="786.4" width="3.4" height="1.7" fill="#dde2ec"/><rect x="241.0" y="786.4" width="5.2" height="1.7" fill="#98a0b7"/><rect x="246.2" y="786.4" width="1.7" height="1.7" fill="#6c748e"/><rect x="247.9" y="786.4" width="1.7" height="1.7" fill="#98a0b7"/><rect x="249.6" y="786.4" width="1.7" height="1.7" fill="#dde2ec"/><rect x="251.4" y="786.4" width="1.7" height="1.7" fill="#f3f5f9"/><rect x="253.1" y="786.4" width="1.7" height="1.7" fill="#dde2ec"/><rect x="254.8" y="786.4" width="1.7" height="1.7" fill="#c0c7d7"/><rect x="256.5" y="786.4" width="1.7" height="1.7" fill="#f3f5f9"/><rect x="258.2" y="786.4" width="5.2" height="1.7" fill="#dde2ec"/><rect x="263.4" y="786.4" width="1.7" height="1.7" fill="#f3f5f9"/><rect x="265.1" y="786.4" width="1.7" height="1.7" fill="#c0c7d7"/><rect x="266.8" y="786.4" width="1.7" height="1.7" fill="#98a0b7"/><rect x="268.6" y="786.4" width="3.4" height="1.7" fill="#dde2ec"/><rect x="272.0" y="786.4" width="1.7" height="1.7" fill="#c0c7d7"/><rect x="273.7" y="786.4" width="1.7" height="1.7" fill="#6c748e"/><rect x="275.4" y="786.4" width="1.7" height="1.7" fill="#98a0b7"/><rect x="277.2" y="786.4" width="5.2" height="1.7" fill="#c0c7d7"/><rect x="282.3" y="786.4" width="1.7" height="1.7" fill="#98a0b7"/><rect x="284.0" y="786.4" width="5.2" height="1.7" fill="#c0c7d7"/><rect x="289.2" y="786.4" width="3.4" height="1.7" fill="#dde2ec"/><rect x="292.6" y="786.4" width="6.9" height="1.7" fill="#f3f5f9"/><rect x="299.5" y="786.4" width="1.7" height="1.7" fill="#dde2ec"/><rect x="301.2" y="786.4" width="1.7" height="1.7" fill="#98a0b7"/><rect x="303.0" y="786.4" width="1.7" height="1.7" fill="#c0c7d7"/><rect x="304.7" y="786.4" width="1.7" height="1.7" fill="#98a0b7"/><rect x="306.4" y="786.4" width="1.7" height="1.7" fill="#6c748e"/><rect x="308.1" y="786.4" width="1.7" height="1.7" fill="#c0c7d7"/><rect x="309.8" y="786.4" width="1.7" height="1.7" fill="#dde2ec"/><rect x="311.6" y="786.4" width="1.7" height="1.7" fill="#c0c7d7"/><rect x="313.3" y="786.4" width="1.7" height="1.7" fill="#98a0b7"/><rect x="229.0" y="788.2" width="1.7" height="1.7" fill="#f3f5f9"/><rect x="230.7" y="788.2" width="1.7" height="1.7" fill="#c0c7d7"/><rect x="232.4" y="788.2" width="1.7" height="1.7" fill="#98a0b7"/><rect x="234.2" y="788.2" width="1.7" height="1.7" fill="#dde2ec"/><rect x="235.9" y="788.2" width="3.4" height="1.7" fill="#f3f5f9"/><rect x="239.3" y="788.2" width="3.4" height="1.7" fill="#c0c7d7"/><rect x="242.8" y="788.2" width="1.7" height="1.7" fill="#dde2ec"/><rect x="244.5" y="788.2" width="1.7" height="1.7" fill="#c0c7d7"/><rect x="246.2" y="788.2" width="3.4" height="1.7" fill="#98a0b7"/><rect x="249.6" y="788.2" width="3.4" height="1.7" fill="#dde2ec"/><rect x="253.1" y="788.2" width="1.7" height="1.7" fill="#c0c7d7"/><rect x="254.8" y="788.2" width="1.7" height="1.7" fill="#dde2ec"/><rect x="256.5" y="788.2" width="3.4" height="1.7" fill="#f3f5f9"/><rect x="260.0" y="788.2" width="5.2" height="1.7" fill="#c0c7d7"/><rect x="265.1" y="788.2" width="5.2" height="1.7" fill="#dde2ec"/><rect x="270.3" y="788.2" width="1.7" height="1.7" fill="#f3f5f9"/><rect x="272.0" y="788.2" width="1.7" height="1.7" fill="#dde2ec"/><rect x="273.7" y="788.2" width="1.7" height="1.7" fill="#c0c7d7"/><rect x="275.4" y="788.2" width="1.7" height="1.7" fill="#98a0b7"/><rect x="277.2" y="788.2" width="1.7" height="1.7" fill="#dde2ec"/><rect x="278.9" y="788.2" width="3.4" height="1.7" fill="#c0c7d7"/><rect x="282.3" y="788.2" width="3.4" height="1.7" fill="#98a0b7"/><rect x="285.8" y="788.2" width="1.7" height="1.7" fill="#c0c7d7"/><rect x="287.5" y="788.2" width="1.7" height="1.7" fill="#dde2ec"/><rect x="289.2" y="788.2" width="3.4" height="1.7" fill="#c0c7d7"/><rect x="292.6" y="788.2" width="1.7" height="1.7" fill="#f3f5f9"/><rect x="294.4" y="788.2" width="3.4" height="1.7" fill="#dde2ec"/><rect x="297.8" y="788.2" width="3.4" height="1.7" fill="#c0c7d7"/><rect x="301.2" y="788.2" width="1.7" height="1.7" fill="#98a0b7"/><rect x="303.0" y="788.2" width="1.7" height="1.7" fill="#6c748e"/><rect x="304.7" y="788.2" width="1.7" height="1.7" fill="#c0c7d7"/><rect x="306.4" y="788.2" width="1.7" height="1.7" fill="#6c748e"/><rect x="308.1" y="788.2" width="1.7" height="1.7" fill="#98a0b7"/><rect x="309.8" y="788.2" width="1.7" height="1.7" fill="#c0c7d7"/><rect x="311.6" y="788.2" width="1.7" height="1.7" fill="#98a0b7"/><rect x="313.3" y="788.2" width="1.7" height="1.7" fill="#dde2ec"/><rect x="229.0" y="789.9" width="1.7" height="1.7" fill="#f3f5f9"/><rect x="230.7" y="789.9" width="1.7" height="1.7" fill="#dde2ec"/><rect x="232.4" y="789.9" width="1.7" height="1.7" fill="#98a0b7"/><rect x="234.2" y="789.9" width="1.7" height="1.7" fill="#c0c7d7"/><rect x="235.9" y="789.9" width="1.7" height="1.7" fill="#98a0b7"/><rect x="237.6" y="789.9" width="1.7" height="1.7" fill="#c0c7d7"/><rect x="239.3" y="789.9" width="3.4" height="1.7" fill="#f3f5f9"/><rect x="242.8" y="789.9" width="5.2" height="1.7" fill="#dde2ec"/><rect x="247.9" y="789.9" width="1.7" height="1.7" fill="#c0c7d7"/><rect x="249.6" y="789.9" width="3.4" height="1.7" fill="#98a0b7"/><rect x="253.1" y="789.9" width="1.7" height="1.7" fill="#6c748e"/><rect x="254.8" y="789.9" width="1.7" height="1.7" fill="#98a0b7"/><rect x="256.5" y="789.9" width="1.7" height="1.7" fill="#dde2ec"/><rect x="258.2" y="789.9" width="5.2" height="1.7" fill="#c0c7d7"/><rect x="263.4" y="789.9" width="1.7" height="1.7" fill="#6c748e"/><rect x="265.1" y="789.9" width="1.7" height="1.7" fill="#98a0b7"/><rect x="266.8" y="789.9" width="1.7" height="1.7" fill="#dde2ec"/><rect x="268.6" y="789.9" width="1.7" height="1.7" fill="#98a0b7"/><rect x="270.3" y="789.9" width="1.7" height="1.7" fill="#c0c7d7"/><rect x="272.0" y="789.9" width="1.7" height="1.7" fill="#f3f5f9"/><rect x="273.7" y="789.9" width="1.7" height="1.7" fill="#dde2ec"/><rect x="275.4" y="789.9" width="1.7" height="1.7" fill="#f3f5f9"/><rect x="277.2" y="789.9" width="1.7" height="1.7" fill="#dde2ec"/><rect x="278.9" y="789.9" width="3.4" height="1.7" fill="#6c748e"/><rect x="282.3" y="789.9" width="1.7" height="1.7" fill="#c0c7d7"/><rect x="284.0" y="789.9" width="1.7" height="1.7" fill="#98a0b7"/><rect x="285.8" y="789.9" width="1.7" height="1.7" fill="#c0c7d7"/><rect x="287.5" y="789.9" width="1.7" height="1.7" fill="#f3f5f9"/><rect x="289.2" y="789.9" width="1.7" height="1.7" fill="#c0c7d7"/><rect x="290.9" y="789.9" width="1.7" height="1.7" fill="#f3f5f9"/><rect x="292.6" y="789.9" width="1.7" height="1.7" fill="#dde2ec"/><rect x="294.4" y="789.9" width="1.7" height="1.7" fill="#c0c7d7"/><rect x="296.1" y="789.9" width="1.7" height="1.7" fill="#98a0b7"/><rect x="297.8" y="789.9" width="3.4" height="1.7" fill="#dde2ec"/><rect x="301.2" y="789.9" width="1.7" height="1.7" fill="#c0c7d7"/><rect x="303.0" y="789.9" width="5.2" height="1.7" fill="#6c748e"/><rect x="308.1" y="789.9" width="3.4" height="1.7" fill="#c0c7d7"/><rect x="311.6" y="789.9" width="1.7" height="1.7" fill="#98a0b7"/><rect x="313.3" y="789.9" width="1.7" height="1.7" fill="#c0c7d7"/><rect x="229.0" y="791.6" width="1.7" height="1.7" fill="#f3f5f9"/><rect x="230.7" y="791.6" width="1.7" height="1.7" fill="#dde2ec"/><rect x="232.4" y="791.6" width="1.7" height="1.7" fill="#c0c7d7"/><rect x="234.2" y="791.6" width="1.7" height="1.7" fill="#dde2ec"/><rect x="235.9" y="791.6" width="3.4" height="1.7" fill="#c0c7d7"/><rect x="239.3" y="791.6" width="1.7" height="1.7" fill="#f3f5f9"/><rect x="241.0" y="791.6" width="1.7" height="1.7" fill="#dde2ec"/><rect x="242.8" y="791.6" width="1.7" height="1.7" fill="#c0c7d7"/><rect x="244.5" y="791.6" width="1.7" height="1.7" fill="#f3f5f9"/><rect x="246.2" y="791.6" width="1.7" height="1.7" fill="#dde2ec"/><rect x="247.9" y="791.6" width="1.7" height="1.7" fill="#98a0b7"/><rect x="249.6" y="791.6" width="6.9" height="1.7" fill="#6c748e"/><rect x="256.5" y="791.6" width="1.7" height="1.7" fill="#98a0b7"/><rect x="258.2" y="791.6" width="1.7" height="1.7" fill="#f3f5f9"/><rect x="260.0" y="791.6" width="1.7" height="1.7" fill="#c0c7d7"/><rect x="261.7" y="791.6" width="1.7" height="1.7" fill="#98a0b7"/><rect x="263.4" y="791.6" width="5.2" height="1.7" fill="#6c748e"/><rect x="268.6" y="791.6" width="1.7" height="1.7" fill="#98a0b7"/><rect x="270.3" y="791.6" width="1.7" height="1.7" fill="#c0c7d7"/><rect x="272.0" y="791.6" width="1.7" height="1.7" fill="#f3f5f9"/><rect x="273.7" y="791.6" width="5.2" height="1.7" fill="#dde2ec"/><rect x="278.9" y="791.6" width="1.7" height="1.7" fill="#6c748e"/><rect x="280.6" y="791.6" width="3.4" height="1.7" fill="#98a0b7"/><rect x="284.0" y="791.6" width="3.4" height="1.7" fill="#6c748e"/><rect x="287.5" y="791.6" width="3.4" height="1.7" fill="#dde2ec"/><rect x="290.9" y="791.6" width="1.7" height="1.7" fill="#f3f5f9"/><rect x="292.6" y="791.6" width="1.7" height="1.7" fill="#dde2ec"/><rect x="294.4" y="791.6" width="1.7" height="1.7" fill="#98a0b7"/><rect x="296.1" y="791.6" width="1.7" height="1.7" fill="#dde2ec"/><rect x="297.8" y="791.6" width="5.2" height="1.7" fill="#f3f5f9"/><rect x="303.0" y="791.6" width="1.7" height="1.7" fill="#c0c7d7"/><rect x="304.7" y="791.6" width="1.7" height="1.7" fill="#98a0b7"/><rect x="306.4" y="791.6" width="3.4" height="1.7" fill="#c0c7d7"/><rect x="309.8" y="791.6" width="1.7" height="1.7" fill="#98a0b7"/><rect x="311.6" y="791.6" width="1.7" height="1.7" fill="#dde2ec"/><rect x="313.3" y="791.6" width="1.7" height="1.7" fill="#f3f5f9"/><rect x="229.0" y="793.3" width="3.4" height="1.7" fill="#f3f5f9"/><rect x="232.4" y="793.3" width="1.7" height="1.7" fill="#c0c7d7"/><rect x="234.2" y="793.3" width="1.7" height="1.7" fill="#dde2ec"/><rect x="235.9" y="793.3" width="3.4" height="1.7" fill="#f3f5f9"/><rect x="239.3" y="793.3" width="1.7" height="1.7" fill="#98a0b7"/><rect x="241.0" y="793.3" width="1.7" height="1.7" fill="#6c748e"/><rect x="242.8" y="793.3" width="1.7" height="1.7" fill="#c0c7d7"/><rect x="244.5" y="793.3" width="1.7" height="1.7" fill="#f3f5f9"/><rect x="246.2" y="793.3" width="1.7" height="1.7" fill="#c0c7d7"/><rect x="247.9" y="793.3" width="1.7" height="1.7" fill="#98a0b7"/><rect x="249.6" y="793.3" width="1.7" height="1.7" fill="#c0c7d7"/><rect x="251.4" y="793.3" width="1.7" height="1.7" fill="#6c748e"/><rect x="253.1" y="793.3" width="3.4" height="1.7" fill="#98a0b7"/><rect x="256.5" y="793.3" width="1.7" height="1.7" fill="#6c748e"/><rect x="258.2" y="793.3" width="1.7" height="1.7" fill="#dde2ec"/><rect x="260.0" y="793.3" width="1.7" height="1.7" fill="#c0c7d7"/><rect x="261.7" y="793.3" width="1.7" height="1.7" fill="#98a0b7"/><rect x="263.4" y="793.3" width="3.4" height="1.7" fill="#6c748e"/><rect x="266.8" y="793.3" width="1.7" height="1.7" fill="#98a0b7"/><rect x="268.6" y="793.3" width="1.7" height="1.7" fill="#6c748e"/><rect x="270.3" y="793.3" width="1.7" height="1.7" fill="#98a0b7"/><rect x="272.0" y="793.3" width="1.7" height="1.7" fill="#dde2ec"/><rect x="273.7" y="793.3" width="5.2" height="1.7" fill="#c0c7d7"/><rect x="278.9" y="793.3" width="5.2" height="1.7" fill="#98a0b7"/><rect x="284.0" y="793.3" width="3.4" height="1.7" fill="#6c748e"/><rect x="287.5" y="793.3" width="1.7" height="1.7" fill="#c0c7d7"/><rect x="289.2" y="793.3" width="5.2" height="1.7" fill="#f3f5f9"/><rect x="294.4" y="793.3" width="5.2" height="1.7" fill="#dde2ec"/><rect x="299.5" y="793.3" width="3.4" height="1.7" fill="#f3f5f9"/><rect x="303.0" y="793.3" width="3.4" height="1.7" fill="#dde2ec"/><rect x="306.4" y="793.3" width="1.7" height="1.7" fill="#f3f5f9"/><rect x="308.1" y="793.3" width="1.7" height="1.7" fill="#98a0b7"/><rect x="309.8" y="793.3" width="1.7" height="1.7" fill="#6c748e"/><rect x="311.6" y="793.3" width="3.4" height="1.7" fill="#c0c7d7"/><rect x="229.0" y="795.0" width="3.4" height="1.7" fill="#dde2ec"/><rect x="232.4" y="795.0" width="3.4" height="1.7" fill="#c0c7d7"/><rect x="235.9" y="795.0" width="3.4" height="1.7" fill="#f3f5f9"/><rect x="239.3" y="795.0" width="1.7" height="1.7" fill="#c0c7d7"/><rect x="241.0" y="795.0" width="1.7" height="1.7" fill="#98a0b7"/><rect x="242.8" y="795.0" width="5.2" height="1.7" fill="#f3f5f9"/><rect x="247.9" y="795.0" width="1.7" height="1.7" fill="#dde2ec"/><rect x="249.6" y="795.0" width="1.7" height="1.7" fill="#98a0b7"/><rect x="251.4" y="795.0" width="1.7" height="1.7" fill="#dde2ec"/><rect x="253.1" y="795.0" width="3.4" height="1.7" fill="#f3f5f9"/><rect x="256.5" y="795.0" width="1.7" height="1.7" fill="#c0c7d7"/><rect x="258.2" y="795.0" width="1.7" height="1.7" fill="#98a0b7"/><rect x="260.0" y="795.0" width="1.7" height="1.7" fill="#dde2ec"/><rect x="261.7" y="795.0" width="1.7" height="1.7" fill="#c0c7d7"/><rect x="263.4" y="795.0" width="1.7" height="1.7" fill="#98a0b7"/><rect x="265.1" y="795.0" width="3.4" height="1.7" fill="#6c748e"/><rect x="268.6" y="795.0" width="1.7" height="1.7" fill="#c0c7d7"/><rect x="270.3" y="795.0" width="1.7" height="1.7" fill="#6c748e"/><rect x="272.0" y="795.0" width="1.7" height="1.7" fill="#c0c7d7"/><rect x="273.7" y="795.0" width="1.7" height="1.7" fill="#98a0b7"/><rect x="275.4" y="795.0" width="1.7" height="1.7" fill="#c0c7d7"/><rect x="277.2" y="795.0" width="5.2" height="1.7" fill="#98a0b7"/><rect x="282.3" y="795.0" width="1.7" height="1.7" fill="#c0c7d7"/><rect x="284.0" y="795.0" width="1.7" height="1.7" fill="#6c748e"/><rect x="285.8" y="795.0" width="1.7" height="1.7" fill="#98a0b7"/><rect x="287.5" y="795.0" width="8.6" height="1.7" fill="#dde2ec"/><rect x="296.1" y="795.0" width="3.4" height="1.7" fill="#6c748e"/><rect x="299.5" y="795.0" width="3.4" height="1.7" fill="#f3f5f9"/><rect x="303.0" y="795.0" width="3.4" height="1.7" fill="#dde2ec"/><rect x="306.4" y="795.0" width="1.7" height="1.7" fill="#f3f5f9"/><rect x="308.1" y="795.0" width="1.7" height="1.7" fill="#98a0b7"/><rect x="309.8" y="795.0" width="1.7" height="1.7" fill="#6c748e"/><rect x="311.6" y="795.0" width="3.4" height="1.7" fill="#98a0b7"/><rect x="229.0" y="796.8" width="13.8" height="1.7" fill="#c0c7d7"/><rect x="242.8" y="796.8" width="1.7" height="1.7" fill="#dde2ec"/><rect x="244.5" y="796.8" width="3.4" height="1.7" fill="#f3f5f9"/><rect x="247.9" y="796.8" width="1.7" height="1.7" fill="#c0c7d7"/><rect x="249.6" y="796.8" width="1.7" height="1.7" fill="#98a0b7"/><rect x="251.4" y="796.8" width="1.7" height="1.7" fill="#dde2ec"/><rect x="253.1" y="796.8" width="3.4" height="1.7" fill="#f3f5f9"/><rect x="256.5" y="796.8" width="5.2" height="1.7" fill="#dde2ec"/><rect x="261.7" y="796.8" width="3.4" height="1.7" fill="#f3f5f9"/><rect x="265.1" y="796.8" width="1.7" height="1.7" fill="#98a0b7"/><rect x="266.8" y="796.8" width="1.7" height="1.7" fill="#6c748e"/><rect x="268.6" y="796.8" width="3.4" height="1.7" fill="#98a0b7"/><rect x="272.0" y="796.8" width="1.7" height="1.7" fill="#6c748e"/><rect x="273.7" y="796.8" width="1.7" height="1.7" fill="#98a0b7"/><rect x="275.4" y="796.8" width="1.7" height="1.7" fill="#dde2ec"/><rect x="277.2" y="796.8" width="6.9" height="1.7" fill="#98a0b7"/><rect x="284.0" y="796.8" width="3.4" height="1.7" fill="#c0c7d7"/><rect x="287.5" y="796.8" width="6.9" height="1.7" fill="#f3f5f9"/><rect x="294.4" y="796.8" width="1.7" height="1.7" fill="#c0c7d7"/><rect x="296.1" y="796.8" width="5.2" height="1.7" fill="#6c748e"/><rect x="301.2" y="796.8" width="1.7" height="1.7" fill="#c0c7d7"/><rect x="303.0" y="796.8" width="1.7" height="1.7" fill="#98a0b7"/><rect x="304.7" y="796.8" width="6.9" height="1.7" fill="#c0c7d7"/><rect x="311.6" y="796.8" width="3.4" height="1.7" fill="#6c748e"/><rect x="229.0" y="798.5" width="1.7" height="1.7" fill="#c0c7d7"/><rect x="230.7" y="798.5" width="6.9" height="1.7" fill="#98a0b7"/><rect x="237.6" y="798.5" width="3.4" height="1.7" fill="#c0c7d7"/><rect x="241.0" y="798.5" width="5.2" height="1.7" fill="#f3f5f9"/><rect x="246.2" y="798.5" width="3.4" height="1.7" fill="#c0c7d7"/><rect x="249.6" y="798.5" width="1.7" height="1.7" fill="#98a0b7"/><rect x="251.4" y="798.5" width="1.7" height="1.7" fill="#dde2ec"/><rect x="253.1" y="798.5" width="1.7" height="1.7" fill="#f3f5f9"/><rect x="254.8" y="798.5" width="1.7" height="1.7" fill="#dde2ec"/><rect x="256.5" y="798.5" width="1.7" height="1.7" fill="#c0c7d7"/><rect x="258.2" y="798.5" width="1.7" height="1.7" fill="#dde2ec"/><rect x="260.0" y="798.5" width="1.7" height="1.7" fill="#f3f5f9"/><rect x="261.7" y="798.5" width="3.4" height="1.7" fill="#dde2ec"/><rect x="265.1" y="798.5" width="3.4" height="1.7" fill="#98a0b7"/><rect x="268.6" y="798.5" width="3.4" height="1.7" fill="#c0c7d7"/><rect x="272.0" y="798.5" width="1.7" height="1.7" fill="#98a0b7"/><rect x="273.7" y="798.5" width="3.4" height="1.7" fill="#c0c7d7"/><rect x="277.2" y="798.5" width="3.4" height="1.7" fill="#6c748e"/><rect x="280.6" y="798.5" width="1.7" height="1.7" fill="#98a0b7"/><rect x="282.3" y="798.5" width="3.4" height="1.7" fill="#c0c7d7"/><rect x="285.8" y="798.5" width="1.7" height="1.7" fill="#dde2ec"/><rect x="287.5" y="798.5" width="6.9" height="1.7" fill="#f3f5f9"/><rect x="294.4" y="798.5" width="1.7" height="1.7" fill="#98a0b7"/><rect x="296.1" y="798.5" width="6.9" height="1.7" fill="#6c748e"/><rect x="303.0" y="798.5" width="1.7" height="1.7" fill="#98a0b7"/><rect x="304.7" y="798.5" width="1.7" height="1.7" fill="#6c748e"/><rect x="306.4" y="798.5" width="1.7" height="1.7" fill="#c0c7d7"/><rect x="308.1" y="798.5" width="1.7" height="1.7" fill="#dde2ec"/><rect x="309.8" y="798.5" width="5.2" height="1.7" fill="#98a0b7"/><rect x="229.0" y="800.2" width="8.6" height="1.7" fill="#dde2ec"/><rect x="237.6" y="800.2" width="3.4" height="1.7" fill="#c0c7d7"/><rect x="241.0" y="800.2" width="5.2" height="1.7" fill="#f3f5f9"/><rect x="246.2" y="800.2" width="3.4" height="1.7" fill="#98a0b7"/><rect x="249.6" y="800.2" width="1.7" height="1.7" fill="#c0c7d7"/><rect x="251.4" y="800.2" width="3.4" height="1.7" fill="#6c748e"/><rect x="254.8" y="800.2" width="1.7" height="1.7" fill="#c0c7d7"/><rect x="256.5" y="800.2" width="3.4" height="1.7" fill="#dde2ec"/><rect x="260.0" y="800.2" width="1.7" height="1.7" fill="#f3f5f9"/><rect x="261.7" y="800.2" width="1.7" height="1.7" fill="#c0c7d7"/><rect x="263.4" y="800.2" width="1.7" height="1.7" fill="#98a0b7"/><rect x="265.1" y="800.2" width="3.4" height="1.7" fill="#c0c7d7"/><rect x="268.6" y="800.2" width="1.7" height="1.7" fill="#98a0b7"/><rect x="270.3" y="800.2" width="1.7" height="1.7" fill="#c0c7d7"/><rect x="272.0" y="800.2" width="1.7" height="1.7" fill="#98a0b7"/><rect x="273.7" y="800.2" width="1.7" height="1.7" fill="#dde2ec"/><rect x="275.4" y="800.2" width="1.7" height="1.7" fill="#c0c7d7"/><rect x="277.2" y="800.2" width="5.2" height="1.7" fill="#6c748e"/><rect x="282.3" y="800.2" width="1.7" height="1.7" fill="#98a0b7"/><rect x="284.0" y="800.2" width="5.2" height="1.7" fill="#dde2ec"/><rect x="289.2" y="800.2" width="5.2" height="1.7" fill="#c0c7d7"/><rect x="294.4" y="800.2" width="1.7" height="1.7" fill="#98a0b7"/><rect x="296.1" y="800.2" width="1.7" height="1.7" fill="#6c748e"/><rect x="297.8" y="800.2" width="3.4" height="1.7" fill="#98a0b7"/><rect x="301.2" y="800.2" width="1.7" height="1.7" fill="#6c748e"/><rect x="303.0" y="800.2" width="1.7" height="1.7" fill="#98a0b7"/><rect x="304.7" y="800.2" width="1.7" height="1.7" fill="#6c748e"/><rect x="306.4" y="800.2" width="1.7" height="1.7" fill="#98a0b7"/><rect x="308.1" y="800.2" width="1.7" height="1.7" fill="#dde2ec"/><rect x="309.8" y="800.2" width="1.7" height="1.7" fill="#f3f5f9"/><rect x="311.6" y="800.2" width="1.7" height="1.7" fill="#dde2ec"/><rect x="313.3" y="800.2" width="1.7" height="1.7" fill="#c0c7d7"/><rect x="229.0" y="801.9" width="5.2" height="1.7" fill="#f3f5f9"/><rect x="234.2" y="801.9" width="1.7" height="1.7" fill="#dde2ec"/><rect x="235.9" y="801.9" width="1.7" height="1.7" fill="#f3f5f9"/><rect x="237.6" y="801.9" width="3.4" height="1.7" fill="#c0c7d7"/><rect x="241.0" y="801.9" width="5.2" height="1.7" fill="#98a0b7"/><rect x="246.2" y="801.9" width="1.7" height="1.7" fill="#6c748e"/><rect x="247.9" y="801.9" width="3.4" height="1.7" fill="#c0c7d7"/><rect x="251.4" y="801.9" width="3.4" height="1.7" fill="#6c748e"/><rect x="254.8" y="801.9" width="1.7" height="1.7" fill="#c0c7d7"/><rect x="256.5" y="801.9" width="3.4" height="1.7" fill="#dde2ec"/><rect x="260.0" y="801.9" width="1.7" height="1.7" fill="#c0c7d7"/><rect x="261.7" y="801.9" width="1.7" height="1.7" fill="#dde2ec"/><rect x="263.4" y="801.9" width="1.7" height="1.7" fill="#c0c7d7"/><rect x="265.1" y="801.9" width="1.7" height="1.7" fill="#f3f5f9"/><rect x="266.8" y="801.9" width="1.7" height="1.7" fill="#dde2ec"/><rect x="268.6" y="801.9" width="1.7" height="1.7" fill="#98a0b7"/><rect x="270.3" y="801.9" width="1.7" height="1.7" fill="#dde2ec"/><rect x="272.0" y="801.9" width="1.7" height="1.7" fill="#c0c7d7"/><rect x="273.7" y="801.9" width="1.7" height="1.7" fill="#dde2ec"/><rect x="275.4" y="801.9" width="3.4" height="1.7" fill="#98a0b7"/><rect x="278.9" y="801.9" width="1.7" height="1.7" fill="#c0c7d7"/><rect x="280.6" y="801.9" width="1.7" height="1.7" fill="#6c748e"/><rect x="282.3" y="801.9" width="1.7" height="1.7" fill="#98a0b7"/><rect x="284.0" y="801.9" width="1.7" height="1.7" fill="#f3f5f9"/><rect x="285.8" y="801.9" width="1.7" height="1.7" fill="#c0c7d7"/><rect x="287.5" y="801.9" width="8.6" height="1.7" fill="#6c748e"/><rect x="296.1" y="801.9" width="1.7" height="1.7" fill="#c0c7d7"/><rect x="297.8" y="801.9" width="1.7" height="1.7" fill="#98a0b7"/><rect x="299.5" y="801.9" width="3.4" height="1.7" fill="#6c748e"/><rect x="303.0" y="801.9" width="1.7" height="1.7" fill="#98a0b7"/><rect x="304.7" y="801.9" width="3.4" height="1.7" fill="#c0c7d7"/><rect x="308.1" y="801.9" width="3.4" height="1.7" fill="#dde2ec"/><rect x="311.6" y="801.9" width="1.7" height="1.7" fill="#c0c7d7"/><rect x="313.3" y="801.9" width="1.7" height="1.7" fill="#98a0b7"/><rect x="229.0" y="803.6" width="5.2" height="1.7" fill="#f3f5f9"/><rect x="234.2" y="803.6" width="1.7" height="1.7" fill="#98a0b7"/><rect x="235.9" y="803.6" width="3.4" height="1.7" fill="#dde2ec"/><rect x="239.3" y="803.6" width="1.7" height="1.7" fill="#c0c7d7"/><rect x="241.0" y="803.6" width="1.7" height="1.7" fill="#6c748e"/><rect x="242.8" y="803.6" width="1.7" height="1.7" fill="#c0c7d7"/><rect x="244.5" y="803.6" width="3.4" height="1.7" fill="#6c748e"/><rect x="247.9" y="803.6" width="3.4" height="1.7" fill="#c0c7d7"/><rect x="251.4" y="803.6" width="3.4" height="1.7" fill="#6c748e"/><rect x="254.8" y="803.6" width="1.7" height="1.7" fill="#c0c7d7"/><rect x="256.5" y="803.6" width="5.2" height="1.7" fill="#98a0b7"/><rect x="261.7" y="803.6" width="1.7" height="1.7" fill="#dde2ec"/><rect x="263.4" y="803.6" width="3.4" height="1.7" fill="#f3f5f9"/><rect x="266.8" y="803.6" width="3.4" height="1.7" fill="#c0c7d7"/><rect x="270.3" y="803.6" width="3.4" height="1.7" fill="#f3f5f9"/><rect x="273.7" y="803.6" width="1.7" height="1.7" fill="#dde2ec"/><rect x="275.4" y="803.6" width="3.4" height="1.7" fill="#6c748e"/><rect x="278.9" y="803.6" width="1.7" height="1.7" fill="#c0c7d7"/><rect x="280.6" y="803.6" width="3.4" height="1.7" fill="#98a0b7"/><rect x="284.0" y="803.6" width="1.7" height="1.7" fill="#c0c7d7"/><rect x="285.8" y="803.6" width="1.7" height="1.7" fill="#98a0b7"/><rect x="287.5" y="803.6" width="1.7" height="1.7" fill="#6c748e"/><rect x="289.2" y="803.6" width="1.7" height="1.7" fill="#98a0b7"/><rect x="290.9" y="803.6" width="1.7" height="1.7" fill="#c0c7d7"/><rect x="292.6" y="803.6" width="1.7" height="1.7" fill="#98a0b7"/><rect x="294.4" y="803.6" width="5.2" height="1.7" fill="#6c748e"/><rect x="299.5" y="803.6" width="1.7" height="1.7" fill="#98a0b7"/><rect x="301.2" y="803.6" width="1.7" height="1.7" fill="#6c748e"/><rect x="303.0" y="803.6" width="5.2" height="1.7" fill="#c0c7d7"/><rect x="308.1" y="803.6" width="6.9" height="1.7" fill="#98a0b7"/><rect x="229.0" y="805.4" width="1.7" height="1.7" fill="#dde2ec"/><rect x="230.7" y="805.4" width="3.4" height="1.7" fill="#c0c7d7"/><rect x="234.2" y="805.4" width="1.7" height="1.7" fill="#6c748e"/><rect x="235.9" y="805.4" width="1.7" height="1.7" fill="#98a0b7"/><rect x="237.6" y="805.4" width="1.7" height="1.7" fill="#dde2ec"/><rect x="239.3" y="805.4" width="3.4" height="1.7" fill="#98a0b7"/><rect x="242.8" y="805.4" width="3.4" height="1.7" fill="#c0c7d7"/><rect x="246.2" y="805.4" width="1.7" height="1.7" fill="#98a0b7"/><rect x="247.9" y="805.4" width="3.4" height="1.7" fill="#c0c7d7"/><rect x="251.4" y="805.4" width="1.7" height="1.7" fill="#98a0b7"/><rect x="253.1" y="805.4" width="6.9" height="1.7" fill="#6c748e"/><rect x="260.0" y="805.4" width="1.7" height="1.7" fill="#98a0b7"/><rect x="261.7" y="805.4" width="1.7" height="1.7" fill="#c0c7d7"/><rect x="263.4" y="805.4" width="3.4" height="1.7" fill="#f3f5f9"/><rect x="266.8" y="805.4" width="1.7" height="1.7" fill="#c0c7d7"/><rect x="268.6" y="805.4" width="1.7" height="1.7" fill="#dde2ec"/><rect x="270.3" y="805.4" width="1.7" height="1.7" fill="#f3f5f9"/><rect x="272.0" y="805.4" width="1.7" height="1.7" fill="#c0c7d7"/><rect x="273.7" y="805.4" width="1.7" height="1.7" fill="#6c748e"/><rect x="275.4" y="805.4" width="1.7" height="1.7" fill="#98a0b7"/><rect x="277.2" y="805.4" width="1.7" height="1.7" fill="#c0c7d7"/><rect x="278.9" y="805.4" width="1.7" height="1.7" fill="#dde2ec"/><rect x="280.6" y="805.4" width="1.7" height="1.7" fill="#c0c7d7"/><rect x="282.3" y="805.4" width="6.9" height="1.7" fill="#98a0b7"/><rect x="289.2" y="805.4" width="1.7" height="1.7" fill="#6c748e"/><rect x="290.9" y="805.4" width="1.7" height="1.7" fill="#c0c7d7"/><rect x="292.6" y="805.4" width="1.7" height="1.7" fill="#dde2ec"/><rect x="294.4" y="805.4" width="1.7" height="1.7" fill="#c0c7d7"/><rect x="296.1" y="805.4" width="1.7" height="1.7" fill="#98a0b7"/><rect x="297.8" y="805.4" width="1.7" height="1.7" fill="#c0c7d7"/><rect x="299.5" y="805.4" width="6.9" height="1.7" fill="#98a0b7"/><rect x="306.4" y="805.4" width="5.2" height="1.7" fill="#dde2ec"/><rect x="311.6" y="805.4" width="1.7" height="1.7" fill="#6c748e"/><rect x="313.3" y="805.4" width="1.7" height="1.7" fill="#c0c7d7"/><rect x="229.0" y="807.1" width="1.7" height="1.7" fill="#c0c7d7"/><rect x="230.7" y="807.1" width="5.2" height="1.7" fill="#98a0b7"/><rect x="235.9" y="807.1" width="3.4" height="1.7" fill="#c0c7d7"/><rect x="239.3" y="807.1" width="3.4" height="1.7" fill="#6c748e"/><rect x="242.8" y="807.1" width="3.4" height="1.7" fill="#c0c7d7"/><rect x="246.2" y="807.1" width="1.7" height="1.7" fill="#6c748e"/><rect x="247.9" y="807.1" width="1.7" height="1.7" fill="#c0c7d7"/><rect x="249.6" y="807.1" width="1.7" height="1.7" fill="#dde2ec"/><rect x="251.4" y="807.1" width="1.7" height="1.7" fill="#98a0b7"/><rect x="253.1" y="807.1" width="3.4" height="1.7" fill="#6c748e"/><rect x="256.5" y="807.1" width="3.4" height="1.7" fill="#c0c7d7"/><rect x="260.0" y="807.1" width="1.7" height="1.7" fill="#98a0b7"/><rect x="261.7" y="807.1" width="1.7" height="1.7" fill="#c0c7d7"/><rect x="263.4" y="807.1" width="3.4" height="1.7" fill="#f3f5f9"/><rect x="266.8" y="807.1" width="3.4" height="1.7" fill="#c0c7d7"/><rect x="270.3" y="807.1" width="1.7" height="1.7" fill="#f3f5f9"/><rect x="272.0" y="807.1" width="1.7" height="1.7" fill="#c0c7d7"/><rect x="273.7" y="807.1" width="1.7" height="1.7" fill="#98a0b7"/><rect x="275.4" y="807.1" width="1.7" height="1.7" fill="#c0c7d7"/><rect x="277.2" y="807.1" width="1.7" height="1.7" fill="#f3f5f9"/><rect x="278.9" y="807.1" width="1.7" height="1.7" fill="#dde2ec"/><rect x="280.6" y="807.1" width="5.2" height="1.7" fill="#c0c7d7"/><rect x="285.8" y="807.1" width="1.7" height="1.7" fill="#98a0b7"/><rect x="287.5" y="807.1" width="1.7" height="1.7" fill="#6c748e"/><rect x="289.2" y="807.1" width="1.7" height="1.7" fill="#98a0b7"/><rect x="290.9" y="807.1" width="3.4" height="1.7" fill="#c0c7d7"/><rect x="294.4" y="807.1" width="3.4" height="1.7" fill="#f3f5f9"/><rect x="297.8" y="807.1" width="1.7" height="1.7" fill="#c0c7d7"/><rect x="299.5" y="807.1" width="5.2" height="1.7" fill="#98a0b7"/><rect x="304.7" y="807.1" width="1.7" height="1.7" fill="#c0c7d7"/><rect x="306.4" y="807.1" width="1.7" height="1.7" fill="#dde2ec"/><rect x="308.1" y="807.1" width="1.7" height="1.7" fill="#f3f5f9"/><rect x="309.8" y="807.1" width="1.7" height="1.7" fill="#dde2ec"/><rect x="311.6" y="807.1" width="1.7" height="1.7" fill="#98a0b7"/><rect x="313.3" y="807.1" width="1.7" height="1.7" fill="#c0c7d7"/><rect x="229.0" y="808.8" width="1.7" height="1.7" fill="#6c748e"/><rect x="230.7" y="808.8" width="1.7" height="1.7" fill="#98a0b7"/><rect x="232.4" y="808.8" width="1.7" height="1.7" fill="#c0c7d7"/><rect x="234.2" y="808.8" width="3.4" height="1.7" fill="#f3f5f9"/><rect x="237.6" y="808.8" width="3.4" height="1.7" fill="#dde2ec"/><rect x="241.0" y="808.8" width="3.4" height="1.7" fill="#c0c7d7"/><rect x="244.5" y="808.8" width="1.7" height="1.7" fill="#dde2ec"/><rect x="246.2" y="808.8" width="1.7" height="1.7" fill="#98a0b7"/><rect x="247.9" y="808.8" width="1.7" height="1.7" fill="#6c748e"/><rect x="249.6" y="808.8" width="1.7" height="1.7" fill="#98a0b7"/><rect x="251.4" y="808.8" width="1.7" height="1.7" fill="#c0c7d7"/><rect x="253.1" y="808.8" width="6.9" height="1.7" fill="#f3f5f9"/><rect x="260.0" y="808.8" width="1.7" height="1.7" fill="#c0c7d7"/><rect x="261.7" y="808.8" width="3.4" height="1.7" fill="#f3f5f9"/><rect x="265.1" y="808.8" width="1.7" height="1.7" fill="#c0c7d7"/><rect x="266.8" y="808.8" width="3.4" height="1.7" fill="#98a0b7"/><rect x="270.3" y="808.8" width="1.7" height="1.7" fill="#c0c7d7"/><rect x="272.0" y="808.8" width="1.7" height="1.7" fill="#dde2ec"/><rect x="273.7" y="808.8" width="1.7" height="1.7" fill="#c0c7d7"/><rect x="275.4" y="808.8" width="1.7" height="1.7" fill="#dde2ec"/><rect x="277.2" y="808.8" width="1.7" height="1.7" fill="#c0c7d7"/><rect x="278.9" y="808.8" width="1.7" height="1.7" fill="#6c748e"/><rect x="280.6" y="808.8" width="1.7" height="1.7" fill="#98a0b7"/><rect x="282.3" y="808.8" width="1.7" height="1.7" fill="#dde2ec"/><rect x="284.0" y="808.8" width="1.7" height="1.7" fill="#c0c7d7"/><rect x="285.8" y="808.8" width="1.7" height="1.7" fill="#98a0b7"/><rect x="287.5" y="808.8" width="1.7" height="1.7" fill="#6c748e"/><rect x="289.2" y="808.8" width="1.7" height="1.7" fill="#c0c7d7"/><rect x="290.9" y="808.8" width="1.7" height="1.7" fill="#dde2ec"/><rect x="292.6" y="808.8" width="1.7" height="1.7" fill="#98a0b7"/><rect x="294.4" y="808.8" width="3.4" height="1.7" fill="#f3f5f9"/><rect x="297.8" y="808.8" width="1.7" height="1.7" fill="#c0c7d7"/><rect x="299.5" y="808.8" width="5.2" height="1.7" fill="#f3f5f9"/><rect x="304.7" y="808.8" width="3.4" height="1.7" fill="#dde2ec"/><rect x="308.1" y="808.8" width="3.4" height="1.7" fill="#f3f5f9"/><rect x="311.6" y="808.8" width="1.7" height="1.7" fill="#98a0b7"/><rect x="313.3" y="808.8" width="1.7" height="1.7" fill="#c0c7d7"/><rect x="229.0" y="810.5" width="3.4" height="1.7" fill="#c0c7d7"/><rect x="232.4" y="810.5" width="1.7" height="1.7" fill="#dde2ec"/><rect x="234.2" y="810.5" width="5.2" height="1.7" fill="#f3f5f9"/><rect x="239.3" y="810.5" width="1.7" height="1.7" fill="#c0c7d7"/><rect x="241.0" y="810.5" width="3.4" height="1.7" fill="#98a0b7"/><rect x="244.5" y="810.5" width="3.4" height="1.7" fill="#dde2ec"/><rect x="247.9" y="810.5" width="1.7" height="1.7" fill="#98a0b7"/><rect x="249.6" y="810.5" width="1.7" height="1.7" fill="#c0c7d7"/><rect x="251.4" y="810.5" width="3.4" height="1.7" fill="#f3f5f9"/><rect x="254.8" y="810.5" width="6.9" height="1.7" fill="#dde2ec"/><rect x="261.7" y="810.5" width="1.7" height="1.7" fill="#c0c7d7"/><rect x="263.4" y="810.5" width="1.7" height="1.7" fill="#f3f5f9"/><rect x="265.1" y="810.5" width="1.7" height="1.7" fill="#dde2ec"/><rect x="266.8" y="810.5" width="1.7" height="1.7" fill="#c0c7d7"/><rect x="268.6" y="810.5" width="8.6" height="1.7" fill="#dde2ec"/><rect x="277.2" y="810.5" width="1.7" height="1.7" fill="#c0c7d7"/><rect x="278.9" y="810.5" width="10.3" height="1.7" fill="#98a0b7"/><rect x="289.2" y="810.5" width="10.3" height="1.7" fill="#c0c7d7"/><rect x="299.5" y="810.5" width="10.3" height="1.7" fill="#f3f5f9"/><rect x="309.8" y="810.5" width="1.7" height="1.7" fill="#dde2ec"/><rect x="311.6" y="810.5" width="1.7" height="1.7" fill="#98a0b7"/><rect x="313.3" y="810.5" width="1.7" height="1.7" fill="#c0c7d7"/><rect x="229.0" y="812.2" width="1.7" height="1.7" fill="#c0c7d7"/><rect x="230.7" y="812.2" width="1.7" height="1.7" fill="#f3f5f9"/><rect x="232.4" y="812.2" width="1.7" height="1.7" fill="#c0c7d7"/><rect x="234.2" y="812.2" width="1.7" height="1.7" fill="#dde2ec"/><rect x="235.9" y="812.2" width="1.7" height="1.7" fill="#c0c7d7"/><rect x="237.6" y="812.2" width="1.7" height="1.7" fill="#dde2ec"/><rect x="239.3" y="812.2" width="1.7" height="1.7" fill="#c0c7d7"/><rect x="241.0" y="812.2" width="1.7" height="1.7" fill="#6c748e"/><rect x="242.8" y="812.2" width="1.7" height="1.7" fill="#98a0b7"/><rect x="244.5" y="812.2" width="1.7" height="1.7" fill="#dde2ec"/><rect x="246.2" y="812.2" width="6.9" height="1.7" fill="#f3f5f9"/><rect x="253.1" y="812.2" width="5.2" height="1.7" fill="#dde2ec"/><rect x="258.2" y="812.2" width="1.7" height="1.7" fill="#c0c7d7"/><rect x="260.0" y="812.2" width="1.7" height="1.7" fill="#f3f5f9"/><rect x="261.7" y="812.2" width="3.4" height="1.7" fill="#dde2ec"/><rect x="265.1" y="812.2" width="1.7" height="1.7" fill="#f3f5f9"/><rect x="266.8" y="812.2" width="3.4" height="1.7" fill="#dde2ec"/><rect x="270.3" y="812.2" width="1.7" height="1.7" fill="#f3f5f9"/><rect x="272.0" y="812.2" width="3.4" height="1.7" fill="#dde2ec"/><rect x="275.4" y="812.2" width="1.7" height="1.7" fill="#f3f5f9"/><rect x="277.2" y="812.2" width="1.7" height="1.7" fill="#dde2ec"/><rect x="278.9" y="812.2" width="1.7" height="1.7" fill="#f3f5f9"/><rect x="280.6" y="812.2" width="1.7" height="1.7" fill="#dde2ec"/><rect x="282.3" y="812.2" width="1.7" height="1.7" fill="#98a0b7"/><rect x="284.0" y="812.2" width="3.4" height="1.7" fill="#6c748e"/><rect x="287.5" y="812.2" width="1.7" height="1.7" fill="#c0c7d7"/><rect x="289.2" y="812.2" width="1.7" height="1.7" fill="#f3f5f9"/><rect x="290.9" y="812.2" width="1.7" height="1.7" fill="#c0c7d7"/><rect x="292.6" y="812.2" width="1.7" height="1.7" fill="#dde2ec"/><rect x="294.4" y="812.2" width="1.7" height="1.7" fill="#98a0b7"/><rect x="296.1" y="812.2" width="1.7" height="1.7" fill="#6c748e"/><rect x="297.8" y="812.2" width="1.7" height="1.7" fill="#c0c7d7"/><rect x="299.5" y="812.2" width="5.2" height="1.7" fill="#f3f5f9"/><rect x="304.7" y="812.2" width="1.7" height="1.7" fill="#dde2ec"/><rect x="306.4" y="812.2" width="1.7" height="1.7" fill="#f3f5f9"/><rect x="308.1" y="812.2" width="1.7" height="1.7" fill="#dde2ec"/><rect x="309.8" y="812.2" width="3.4" height="1.7" fill="#c0c7d7"/><rect x="313.3" y="812.2" width="1.7" height="1.7" fill="#98a0b7"/><rect x="229.0" y="814.0" width="3.4" height="1.7" fill="#c0c7d7"/><rect x="232.4" y="814.0" width="3.4" height="1.7" fill="#6c748e"/><rect x="235.9" y="814.0" width="1.7" height="1.7" fill="#c0c7d7"/><rect x="237.6" y="814.0" width="1.7" height="1.7" fill="#dde2ec"/><rect x="239.3" y="814.0" width="3.4" height="1.7" fill="#c0c7d7"/><rect x="242.8" y="814.0" width="3.4" height="1.7" fill="#98a0b7"/><rect x="246.2" y="814.0" width="1.7" height="1.7" fill="#f3f5f9"/><rect x="247.9" y="814.0" width="1.7" height="1.7" fill="#dde2ec"/><rect x="249.6" y="814.0" width="1.7" height="1.7" fill="#f3f5f9"/><rect x="251.4" y="814.0" width="3.4" height="1.7" fill="#dde2ec"/><rect x="254.8" y="814.0" width="6.9" height="1.7" fill="#f3f5f9"/><rect x="261.7" y="814.0" width="1.7" height="1.7" fill="#c0c7d7"/><rect x="263.4" y="814.0" width="1.7" height="1.7" fill="#98a0b7"/><rect x="265.1" y="814.0" width="1.7" height="1.7" fill="#c0c7d7"/><rect x="266.8" y="814.0" width="1.7" height="1.7" fill="#98a0b7"/><rect x="268.6" y="814.0" width="1.7" height="1.7" fill="#c0c7d7"/><rect x="270.3" y="814.0" width="1.7" height="1.7" fill="#dde2ec"/><rect x="272.0" y="814.0" width="1.7" height="1.7" fill="#c0c7d7"/><rect x="273.7" y="814.0" width="3.4" height="1.7" fill="#98a0b7"/><rect x="277.2" y="814.0" width="1.7" height="1.7" fill="#dde2ec"/><rect x="278.9" y="814.0" width="3.4" height="1.7" fill="#f3f5f9"/><rect x="282.3" y="814.0" width="1.7" height="1.7" fill="#dde2ec"/><rect x="284.0" y="814.0" width="1.7" height="1.7" fill="#c0c7d7"/><rect x="285.8" y="814.0" width="5.2" height="1.7" fill="#dde2ec"/><rect x="290.9" y="814.0" width="3.4" height="1.7" fill="#98a0b7"/><rect x="294.4" y="814.0" width="3.4" height="1.7" fill="#6c748e"/><rect x="297.8" y="814.0" width="1.7" height="1.7" fill="#98a0b7"/><rect x="299.5" y="814.0" width="6.9" height="1.7" fill="#c0c7d7"/><rect x="306.4" y="814.0" width="1.7" height="1.7" fill="#dde2ec"/><rect x="308.1" y="814.0" width="3.4" height="1.7" fill="#f3f5f9"/><rect x="311.6" y="814.0" width="1.7" height="1.7" fill="#c0c7d7"/><rect x="313.3" y="814.0" width="1.7" height="1.7" fill="#6c748e"/><rect x="229.0" y="815.7" width="1.7" height="1.7" fill="#dde2ec"/><rect x="230.7" y="815.7" width="1.7" height="1.7" fill="#98a0b7"/><rect x="232.4" y="815.7" width="3.4" height="1.7" fill="#6c748e"/><rect x="235.9" y="815.7" width="3.4" height="1.7" fill="#c0c7d7"/><rect x="239.3" y="815.7" width="3.4" height="1.7" fill="#f3f5f9"/><rect x="242.8" y="815.7" width="1.7" height="1.7" fill="#c0c7d7"/><rect x="244.5" y="815.7" width="1.7" height="1.7" fill="#98a0b7"/><rect x="246.2" y="815.7" width="1.7" height="1.7" fill="#c0c7d7"/><rect x="247.9" y="815.7" width="1.7" height="1.7" fill="#dde2ec"/><rect x="249.6" y="815.7" width="5.2" height="1.7" fill="#98a0b7"/><rect x="254.8" y="815.7" width="1.7" height="1.7" fill="#dde2ec"/><rect x="256.5" y="815.7" width="3.4" height="1.7" fill="#f3f5f9"/><rect x="260.0" y="815.7" width="1.7" height="1.7" fill="#dde2ec"/><rect x="261.7" y="815.7" width="1.7" height="1.7" fill="#f3f5f9"/><rect x="263.4" y="815.7" width="3.4" height="1.7" fill="#dde2ec"/><rect x="266.8" y="815.7" width="1.7" height="1.7" fill="#98a0b7"/><rect x="268.6" y="815.7" width="6.9" height="1.7" fill="#6c748e"/><rect x="275.4" y="815.7" width="5.2" height="1.7" fill="#c0c7d7"/><rect x="280.6" y="815.7" width="1.7" height="1.7" fill="#f3f5f9"/><rect x="282.3" y="815.7" width="3.4" height="1.7" fill="#dde2ec"/><rect x="285.8" y="815.7" width="1.7" height="1.7" fill="#f3f5f9"/><rect x="287.5" y="815.7" width="1.7" height="1.7" fill="#dde2ec"/><rect x="289.2" y="815.7" width="1.7" height="1.7" fill="#c0c7d7"/><rect x="290.9" y="815.7" width="1.7" height="1.7" fill="#dde2ec"/><rect x="292.6" y="815.7" width="3.4" height="1.7" fill="#6c748e"/><rect x="296.1" y="815.7" width="3.4" height="1.7" fill="#c0c7d7"/><rect x="299.5" y="815.7" width="1.7" height="1.7" fill="#98a0b7"/><rect x="301.2" y="815.7" width="1.7" height="1.7" fill="#c0c7d7"/><rect x="303.0" y="815.7" width="1.7" height="1.7" fill="#98a0b7"/><rect x="304.7" y="815.7" width="1.7" height="1.7" fill="#c0c7d7"/><rect x="306.4" y="815.7" width="5.2" height="1.7" fill="#f3f5f9"/><rect x="311.6" y="815.7" width="1.7" height="1.7" fill="#dde2ec"/><rect x="313.3" y="815.7" width="1.7" height="1.7" fill="#c0c7d7"/><rect x="229.0" y="817.4" width="1.7" height="1.7" fill="#dde2ec"/><rect x="230.7" y="817.4" width="1.7" height="1.7" fill="#c0c7d7"/><rect x="232.4" y="817.4" width="1.7" height="1.7" fill="#f3f5f9"/><rect x="234.2" y="817.4" width="1.7" height="1.7" fill="#dde2ec"/><rect x="235.9" y="817.4" width="3.4" height="1.7" fill="#98a0b7"/><rect x="239.3" y="817.4" width="1.7" height="1.7" fill="#dde2ec"/><rect x="241.0" y="817.4" width="3.4" height="1.7" fill="#f3f5f9"/><rect x="244.5" y="817.4" width="5.2" height="1.7" fill="#98a0b7"/><rect x="249.6" y="817.4" width="3.4" height="1.7" fill="#c0c7d7"/><rect x="253.1" y="817.4" width="1.7" height="1.7" fill="#6c748e"/><rect x="254.8" y="817.4" width="3.4" height="1.7" fill="#c0c7d7"/><rect x="258.2" y="817.4" width="5.2" height="1.7" fill="#f3f5f9"/><rect x="263.4" y="817.4" width="1.7" height="1.7" fill="#c0c7d7"/><rect x="265.1" y="817.4" width="1.7" height="1.7" fill="#98a0b7"/><rect x="266.8" y="817.4" width="3.4" height="1.7" fill="#6c748e"/><rect x="270.3" y="817.4" width="1.7" height="1.7" fill="#c0c7d7"/><rect x="272.0" y="817.4" width="1.7" height="1.7" fill="#98a0b7"/><rect x="273.7" y="817.4" width="1.7" height="1.7" fill="#6c748e"/><rect x="275.4" y="817.4" width="1.7" height="1.7" fill="#98a0b7"/><rect x="277.2" y="817.4" width="1.7" height="1.7" fill="#c0c7d7"/><rect x="278.9" y="817.4" width="3.4" height="1.7" fill="#98a0b7"/><rect x="282.3" y="817.4" width="1.7" height="1.7" fill="#c0c7d7"/><rect x="284.0" y="817.4" width="1.7" height="1.7" fill="#dde2ec"/><rect x="285.8" y="817.4" width="1.7" height="1.7" fill="#98a0b7"/><rect x="287.5" y="817.4" width="1.7" height="1.7" fill="#6c748e"/><rect x="289.2" y="817.4" width="3.4" height="1.7" fill="#c0c7d7"/><rect x="292.6" y="817.4" width="1.7" height="1.7" fill="#6c748e"/><rect x="294.4" y="817.4" width="1.7" height="1.7" fill="#c0c7d7"/><rect x="296.1" y="817.4" width="1.7" height="1.7" fill="#98a0b7"/><rect x="297.8" y="817.4" width="1.7" height="1.7" fill="#c0c7d7"/><rect x="299.5" y="817.4" width="5.2" height="1.7" fill="#dde2ec"/><rect x="304.7" y="817.4" width="3.4" height="1.7" fill="#c0c7d7"/><rect x="308.1" y="817.4" width="6.9" height="1.7" fill="#dde2ec"/><rect x="229.0" y="819.1" width="1.7" height="1.7" fill="#c0c7d7"/><rect x="230.7" y="819.1" width="1.7" height="1.7" fill="#98a0b7"/><rect x="232.4" y="819.1" width="3.4" height="1.7" fill="#f3f5f9"/><rect x="235.9" y="819.1" width="1.7" height="1.7" fill="#c0c7d7"/><rect x="237.6" y="819.1" width="1.7" height="1.7" fill="#98a0b7"/><rect x="239.3" y="819.1" width="1.7" height="1.7" fill="#dde2ec"/><rect x="241.0" y="819.1" width="1.7" height="1.7" fill="#f3f5f9"/><rect x="242.8" y="819.1" width="1.7" height="1.7" fill="#dde2ec"/><rect x="244.5" y="819.1" width="1.7" height="1.7" fill="#98a0b7"/><rect x="246.2" y="819.1" width="3.4" height="1.7" fill="#c0c7d7"/><rect x="249.6" y="819.1" width="1.7" height="1.7" fill="#dde2ec"/><rect x="251.4" y="819.1" width="1.7" height="1.7" fill="#98a0b7"/><rect x="253.1" y="819.1" width="1.7" height="1.7" fill="#6c748e"/><rect x="254.8" y="819.1" width="1.7" height="1.7" fill="#98a0b7"/><rect x="256.5" y="819.1" width="1.7" height="1.7" fill="#c0c7d7"/><rect x="258.2" y="819.1" width="3.4" height="1.7" fill="#f3f5f9"/><rect x="261.7" y="819.1" width="1.7" height="1.7" fill="#c0c7d7"/><rect x="263.4" y="819.1" width="1.7" height="1.7" fill="#98a0b7"/><rect x="265.1" y="819.1" width="5.2" height="1.7" fill="#6c748e"/><rect x="270.3" y="819.1" width="1.7" height="1.7" fill="#c0c7d7"/><rect x="272.0" y="819.1" width="1.7" height="1.7" fill="#f3f5f9"/><rect x="273.7" y="819.1" width="3.4" height="1.7" fill="#c0c7d7"/><rect x="277.2" y="819.1" width="1.7" height="1.7" fill="#f3f5f9"/><rect x="278.9" y="819.1" width="3.4" height="1.7" fill="#c0c7d7"/><rect x="282.3" y="819.1" width="1.7" height="1.7" fill="#dde2ec"/><rect x="284.0" y="819.1" width="3.4" height="1.7" fill="#c0c7d7"/><rect x="287.5" y="819.1" width="3.4" height="1.7" fill="#98a0b7"/><rect x="290.9" y="819.1" width="1.7" height="1.7" fill="#6c748e"/><rect x="292.6" y="819.1" width="1.7" height="1.7" fill="#98a0b7"/><rect x="294.4" y="819.1" width="5.2" height="1.7" fill="#6c748e"/><rect x="299.5" y="819.1" width="1.7" height="1.7" fill="#c0c7d7"/><rect x="301.2" y="819.1" width="1.7" height="1.7" fill="#dde2ec"/><rect x="303.0" y="819.1" width="3.4" height="1.7" fill="#98a0b7"/><rect x="306.4" y="819.1" width="3.4" height="1.7" fill="#6c748e"/><rect x="309.8" y="819.1" width="1.7" height="1.7" fill="#98a0b7"/><rect x="311.6" y="819.1" width="3.4" height="1.7" fill="#dde2ec"/><rect x="229.0" y="820.8" width="1.7" height="1.7" fill="#98a0b7"/><rect x="230.7" y="820.8" width="1.7" height="1.7" fill="#6c748e"/><rect x="232.4" y="820.8" width="1.7" height="1.7" fill="#c0c7d7"/><rect x="234.2" y="820.8" width="1.7" height="1.7" fill="#f3f5f9"/><rect x="235.9" y="820.8" width="1.7" height="1.7" fill="#dde2ec"/><rect x="237.6" y="820.8" width="3.4" height="1.7" fill="#98a0b7"/><rect x="241.0" y="820.8" width="1.7" height="1.7" fill="#dde2ec"/><rect x="242.8" y="820.8" width="1.7" height="1.7" fill="#98a0b7"/><rect x="244.5" y="820.8" width="1.7" height="1.7" fill="#6c748e"/><rect x="246.2" y="820.8" width="1.7" height="1.7" fill="#dde2ec"/><rect x="247.9" y="820.8" width="1.7" height="1.7" fill="#f3f5f9"/><rect x="249.6" y="820.8" width="1.7" height="1.7" fill="#98a0b7"/><rect x="251.4" y="820.8" width="1.7" height="1.7" fill="#6c748e"/><rect x="253.1" y="820.8" width="1.7" height="1.7" fill="#c0c7d7"/><rect x="254.8" y="820.8" width="1.7" height="1.7" fill="#dde2ec"/><rect x="256.5" y="820.8" width="1.7" height="1.7" fill="#98a0b7"/><rect x="258.2" y="820.8" width="1.7" height="1.7" fill="#c0c7d7"/><rect x="260.0" y="820.8" width="1.7" height="1.7" fill="#dde2ec"/><rect x="261.7" y="820.8" width="1.7" height="1.7" fill="#6c748e"/><rect x="263.4" y="820.8" width="3.4" height="1.7" fill="#98a0b7"/><rect x="266.8" y="820.8" width="1.7" height="1.7" fill="#c0c7d7"/><rect x="268.6" y="820.8" width="1.7" height="1.7" fill="#98a0b7"/><rect x="270.3" y="820.8" width="1.7" height="1.7" fill="#6c748e"/><rect x="272.0" y="820.8" width="3.4" height="1.7" fill="#dde2ec"/><rect x="275.4" y="820.8" width="1.7" height="1.7" fill="#c0c7d7"/><rect x="277.2" y="820.8" width="3.4" height="1.7" fill="#dde2ec"/><rect x="280.6" y="820.8" width="3.4" height="1.7" fill="#c0c7d7"/><rect x="284.0" y="820.8" width="1.7" height="1.7" fill="#dde2ec"/><rect x="285.8" y="820.8" width="3.4" height="1.7" fill="#f3f5f9"/><rect x="289.2" y="820.8" width="1.7" height="1.7" fill="#98a0b7"/><rect x="290.9" y="820.8" width="3.4" height="1.7" fill="#6c748e"/><rect x="294.4" y="820.8" width="1.7" height="1.7" fill="#98a0b7"/><rect x="296.1" y="820.8" width="3.4" height="1.7" fill="#6c748e"/><rect x="299.5" y="820.8" width="1.7" height="1.7" fill="#98a0b7"/><rect x="301.2" y="820.8" width="1.7" height="1.7" fill="#dde2ec"/><rect x="303.0" y="820.8" width="1.7" height="1.7" fill="#c0c7d7"/><rect x="304.7" y="820.8" width="6.9" height="1.7" fill="#98a0b7"/><rect x="311.6" y="820.8" width="1.7" height="1.7" fill="#dde2ec"/><rect x="313.3" y="820.8" width="1.7" height="1.7" fill="#c0c7d7"/><rect x="229.0" y="822.6" width="3.4" height="1.7" fill="#6c748e"/><rect x="232.4" y="822.6" width="1.7" height="1.7" fill="#c0c7d7"/><rect x="234.2" y="822.6" width="3.4" height="1.7" fill="#dde2ec"/><rect x="237.6" y="822.6" width="3.4" height="1.7" fill="#98a0b7"/><rect x="241.0" y="822.6" width="1.7" height="1.7" fill="#c0c7d7"/><rect x="242.8" y="822.6" width="1.7" height="1.7" fill="#98a0b7"/><rect x="244.5" y="822.6" width="1.7" height="1.7" fill="#c0c7d7"/><rect x="246.2" y="822.6" width="1.7" height="1.7" fill="#dde2ec"/><rect x="247.9" y="822.6" width="5.2" height="1.7" fill="#c0c7d7"/><rect x="253.1" y="822.6" width="3.4" height="1.7" fill="#f3f5f9"/><rect x="256.5" y="822.6" width="1.7" height="1.7" fill="#6c748e"/><rect x="258.2" y="822.6" width="1.7" height="1.7" fill="#98a0b7"/><rect x="260.0" y="822.6" width="1.7" height="1.7" fill="#c0c7d7"/><rect x="261.7" y="822.6" width="1.7" height="1.7" fill="#dde2ec"/><rect x="263.4" y="822.6" width="1.7" height="1.7" fill="#f3f5f9"/><rect x="265.1" y="822.6" width="1.7" height="1.7" fill="#dde2ec"/><rect x="266.8" y="822.6" width="1.7" height="1.7" fill="#f3f5f9"/><rect x="268.6" y="822.6" width="1.7" height="1.7" fill="#dde2ec"/><rect x="270.3" y="822.6" width="1.7" height="1.7" fill="#98a0b7"/><rect x="272.0" y="822.6" width="6.9" height="1.7" fill="#c0c7d7"/><rect x="278.9" y="822.6" width="1.7" height="1.7" fill="#98a0b7"/><rect x="280.6" y="822.6" width="5.2" height="1.7" fill="#c0c7d7"/><rect x="285.8" y="822.6" width="1.7" height="1.7" fill="#dde2ec"/><rect x="287.5" y="822.6" width="3.4" height="1.7" fill="#c0c7d7"/><rect x="290.9" y="822.6" width="3.4" height="1.7" fill="#6c748e"/><rect x="294.4" y="822.6" width="1.7" height="1.7" fill="#98a0b7"/><rect x="296.1" y="822.6" width="1.7" height="1.7" fill="#dde2ec"/><rect x="297.8" y="822.6" width="1.7" height="1.7" fill="#c0c7d7"/><rect x="299.5" y="822.6" width="5.2" height="1.7" fill="#98a0b7"/><rect x="304.7" y="822.6" width="1.7" height="1.7" fill="#dde2ec"/><rect x="306.4" y="822.6" width="1.7" height="1.7" fill="#f3f5f9"/><rect x="308.1" y="822.6" width="1.7" height="1.7" fill="#dde2ec"/><rect x="309.8" y="822.6" width="1.7" height="1.7" fill="#c0c7d7"/><rect x="311.6" y="822.6" width="3.4" height="1.7" fill="#98a0b7"/><rect x="229.0" y="824.3" width="1.7" height="1.7" fill="#6c748e"/><rect x="230.7" y="824.3" width="3.4" height="1.7" fill="#98a0b7"/><rect x="234.2" y="824.3" width="1.7" height="1.7" fill="#c0c7d7"/><rect x="235.9" y="824.3" width="3.4" height="1.7" fill="#dde2ec"/><rect x="239.3" y="824.3" width="3.4" height="1.7" fill="#f3f5f9"/><rect x="242.8" y="824.3" width="1.7" height="1.7" fill="#dde2ec"/><rect x="244.5" y="824.3" width="1.7" height="1.7" fill="#c0c7d7"/><rect x="246.2" y="824.3" width="1.7" height="1.7" fill="#dde2ec"/><rect x="247.9" y="824.3" width="3.4" height="1.7" fill="#6c748e"/><rect x="251.4" y="824.3" width="1.7" height="1.7" fill="#98a0b7"/><rect x="253.1" y="824.3" width="1.7" height="1.7" fill="#c0c7d7"/><rect x="254.8" y="824.3" width="1.7" height="1.7" fill="#dde2ec"/><rect x="256.5" y="824.3" width="1.7" height="1.7" fill="#98a0b7"/><rect x="258.2" y="824.3" width="1.7" height="1.7" fill="#6c748e"/><rect x="260.0" y="824.3" width="1.7" height="1.7" fill="#c0c7d7"/><rect x="261.7" y="824.3" width="8.6" height="1.7" fill="#f3f5f9"/><rect x="270.3" y="824.3" width="5.2" height="1.7" fill="#dde2ec"/><rect x="275.4" y="824.3" width="1.7" height="1.7" fill="#98a0b7"/><rect x="277.2" y="824.3" width="5.2" height="1.7" fill="#c0c7d7"/><rect x="282.3" y="824.3" width="1.7" height="1.7" fill="#dde2ec"/><rect x="284.0" y="824.3" width="3.4" height="1.7" fill="#6c748e"/><rect x="287.5" y="824.3" width="1.7" height="1.7" fill="#98a0b7"/><rect x="289.2" y="824.3" width="1.7" height="1.7" fill="#c0c7d7"/><rect x="290.9" y="824.3" width="1.7" height="1.7" fill="#dde2ec"/><rect x="292.6" y="824.3" width="1.7" height="1.7" fill="#98a0b7"/><rect x="294.4" y="824.3" width="3.4" height="1.7" fill="#dde2ec"/><rect x="297.8" y="824.3" width="1.7" height="1.7" fill="#98a0b7"/><rect x="299.5" y="824.3" width="1.7" height="1.7" fill="#dde2ec"/><rect x="301.2" y="824.3" width="1.7" height="1.7" fill="#c0c7d7"/><rect x="303.0" y="824.3" width="1.7" height="1.7" fill="#98a0b7"/><rect x="304.7" y="824.3" width="1.7" height="1.7" fill="#c0c7d7"/><rect x="306.4" y="824.3" width="5.2" height="1.7" fill="#98a0b7"/><rect x="311.6" y="824.3" width="3.4" height="1.7" fill="#6c748e"/>
<rect x="245.70" y="740" width="1" height="86" fill="#d9b070" opacity="0.5"/><rect x="229" y="756.70" width="86" height="1" fill="#d9b070" opacity="0.5"/><rect x="262.90" y="740" width="1" height="86" fill="#d9b070" opacity="0.5"/><rect x="229" y="773.90" width="86" height="1" fill="#d9b070" opacity="0.5"/><rect x="280.10" y="740" width="1" height="86" fill="#d9b070" opacity="0.5"/><rect x="229" y="791.10" width="86" height="1" fill="#d9b070" opacity="0.5"/><rect x="297.30" y="740" width="1" height="86" fill="#d9b070" opacity="0.5"/><rect x="229" y="808.30" width="86" height="1" fill="#d9b070" opacity="0.5"/></g>
</svg>
</body></html>
